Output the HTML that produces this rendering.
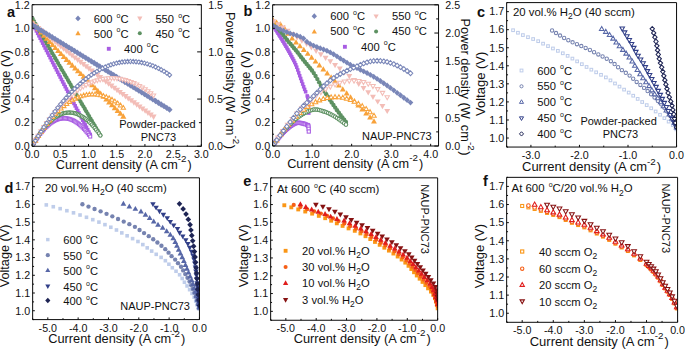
<!DOCTYPE html>
<html><head><meta charset="utf-8"><style>
html,body{margin:0;padding:0;background:#fff;}
body{width:685px;height:349px;overflow:hidden;}
svg{display:block;}
svg text{font-family:"Liberation Sans", sans-serif;fill:#111;}
</style></head><body>
<svg width="685" height="349" viewBox="0 0 685 349" xmlns="http://www.w3.org/2000/svg">
<clipPath id="c1"><rect x="32.10" y="4.70" width="169.25" height="141.55"/></clipPath>
<g clip-path="url(#c1)">
<rect x="30.86" y="21.77" width="3.60" height="3.60" fill="#a85de3"/>
<rect x="32.12" y="24.22" width="3.60" height="3.60" fill="#a85de3"/>
<rect x="33.37" y="26.66" width="3.60" height="3.60" fill="#a85de3"/>
<rect x="34.62" y="29.10" width="3.60" height="3.60" fill="#a85de3"/>
<rect x="35.87" y="31.54" width="3.60" height="3.60" fill="#a85de3"/>
<rect x="37.12" y="33.98" width="3.60" height="3.60" fill="#a85de3"/>
<rect x="38.37" y="36.42" width="3.60" height="3.60" fill="#a85de3"/>
<rect x="39.62" y="38.86" width="3.60" height="3.60" fill="#a85de3"/>
<rect x="40.87" y="41.29" width="3.60" height="3.60" fill="#a85de3"/>
<rect x="42.12" y="43.72" width="3.60" height="3.60" fill="#a85de3"/>
<rect x="43.37" y="46.16" width="3.60" height="3.60" fill="#a85de3"/>
<rect x="44.62" y="48.58" width="3.60" height="3.60" fill="#a85de3"/>
<rect x="45.88" y="51.01" width="3.60" height="3.60" fill="#a85de3"/>
<rect x="47.13" y="53.44" width="3.60" height="3.60" fill="#a85de3"/>
<rect x="48.38" y="55.86" width="3.60" height="3.60" fill="#a85de3"/>
<rect x="49.63" y="58.29" width="3.60" height="3.60" fill="#a85de3"/>
<rect x="50.88" y="60.71" width="3.60" height="3.60" fill="#a85de3"/>
<rect x="52.13" y="63.13" width="3.60" height="3.60" fill="#a85de3"/>
<rect x="53.38" y="65.55" width="3.60" height="3.60" fill="#a85de3"/>
<rect x="54.63" y="67.97" width="3.60" height="3.60" fill="#a85de3"/>
<rect x="55.88" y="70.38" width="3.60" height="3.60" fill="#a85de3"/>
<rect x="57.13" y="72.80" width="3.60" height="3.60" fill="#a85de3"/>
<rect x="58.39" y="75.21" width="3.60" height="3.60" fill="#a85de3"/>
<rect x="59.64" y="77.62" width="3.60" height="3.60" fill="#a85de3"/>
<rect x="60.89" y="80.03" width="3.60" height="3.60" fill="#a85de3"/>
<rect x="62.14" y="82.44" width="3.60" height="3.60" fill="#a85de3"/>
<rect x="63.39" y="84.84" width="3.60" height="3.60" fill="#a85de3"/>
<rect x="64.64" y="87.25" width="3.60" height="3.60" fill="#a85de3"/>
<rect x="65.89" y="89.65" width="3.60" height="3.60" fill="#a85de3"/>
<rect x="67.14" y="92.05" width="3.60" height="3.60" fill="#a85de3"/>
<rect x="68.39" y="94.45" width="3.60" height="3.60" fill="#a85de3"/>
<rect x="69.64" y="96.85" width="3.60" height="3.60" fill="#a85de3"/>
<rect x="70.90" y="99.25" width="3.60" height="3.60" fill="#a85de3"/>
<rect x="72.15" y="101.65" width="3.60" height="3.60" fill="#a85de3"/>
<rect x="73.40" y="104.04" width="3.60" height="3.60" fill="#a85de3"/>
<rect x="74.65" y="106.43" width="3.60" height="3.60" fill="#a85de3"/>
<rect x="75.90" y="108.82" width="3.60" height="3.60" fill="#a85de3"/>
<rect x="77.15" y="111.21" width="3.60" height="3.60" fill="#a85de3"/>
<rect x="78.40" y="113.60" width="3.60" height="3.60" fill="#a85de3"/>
<rect x="79.65" y="115.99" width="3.60" height="3.60" fill="#a85de3"/>
<rect x="80.90" y="118.37" width="3.60" height="3.60" fill="#a85de3"/>
<rect x="82.15" y="120.76" width="3.60" height="3.60" fill="#a85de3"/>
<rect x="83.41" y="123.14" width="3.60" height="3.60" fill="#a85de3"/>
<rect x="84.66" y="125.52" width="3.60" height="3.60" fill="#a85de3"/>
<rect x="85.91" y="127.90" width="3.60" height="3.60" fill="#a85de3"/>
<rect x="87.16" y="130.28" width="3.60" height="3.60" fill="#a85de3"/>
<rect x="88.41" y="132.65" width="3.60" height="3.60" fill="#a85de3"/>
<circle cx="32.66" cy="18.85" r="2.09" fill="#5d9162"/>
<circle cx="34.07" cy="21.33" r="2.09" fill="#5d9162"/>
<circle cx="35.48" cy="23.80" r="2.09" fill="#5d9162"/>
<circle cx="36.90" cy="26.27" r="2.09" fill="#5d9162"/>
<circle cx="38.31" cy="28.74" r="2.09" fill="#5d9162"/>
<circle cx="39.72" cy="31.20" r="2.09" fill="#5d9162"/>
<circle cx="41.13" cy="33.66" r="2.09" fill="#5d9162"/>
<circle cx="42.54" cy="36.12" r="2.09" fill="#5d9162"/>
<circle cx="43.95" cy="38.58" r="2.09" fill="#5d9162"/>
<circle cx="45.36" cy="41.04" r="2.09" fill="#5d9162"/>
<circle cx="46.77" cy="43.49" r="2.09" fill="#5d9162"/>
<circle cx="48.18" cy="45.95" r="2.09" fill="#5d9162"/>
<circle cx="49.59" cy="48.40" r="2.09" fill="#5d9162"/>
<circle cx="51.00" cy="50.84" r="2.09" fill="#5d9162"/>
<circle cx="52.41" cy="53.29" r="2.09" fill="#5d9162"/>
<circle cx="53.82" cy="55.73" r="2.09" fill="#5d9162"/>
<circle cx="55.23" cy="58.17" r="2.09" fill="#5d9162"/>
<circle cx="56.64" cy="60.61" r="2.09" fill="#5d9162"/>
<circle cx="58.05" cy="63.05" r="2.09" fill="#5d9162"/>
<circle cx="59.46" cy="65.48" r="2.09" fill="#5d9162"/>
<circle cx="60.87" cy="67.92" r="2.09" fill="#5d9162"/>
<circle cx="62.28" cy="70.35" r="2.09" fill="#5d9162"/>
<circle cx="63.69" cy="72.77" r="2.09" fill="#5d9162"/>
<circle cx="65.10" cy="75.20" r="2.09" fill="#5d9162"/>
<circle cx="66.51" cy="77.62" r="2.09" fill="#5d9162"/>
<circle cx="67.92" cy="80.05" r="2.09" fill="#5d9162"/>
<circle cx="69.33" cy="82.46" r="2.09" fill="#5d9162"/>
<circle cx="70.75" cy="84.88" r="2.09" fill="#5d9162"/>
<circle cx="72.16" cy="87.30" r="2.09" fill="#5d9162"/>
<circle cx="73.57" cy="89.71" r="2.09" fill="#5d9162"/>
<circle cx="74.98" cy="92.12" r="2.09" fill="#5d9162"/>
<circle cx="76.39" cy="94.53" r="2.09" fill="#5d9162"/>
<circle cx="77.80" cy="96.94" r="2.09" fill="#5d9162"/>
<circle cx="79.21" cy="99.34" r="2.09" fill="#5d9162"/>
<circle cx="80.62" cy="101.75" r="2.09" fill="#5d9162"/>
<circle cx="82.03" cy="104.15" r="2.09" fill="#5d9162"/>
<circle cx="83.44" cy="106.55" r="2.09" fill="#5d9162"/>
<circle cx="84.85" cy="108.94" r="2.09" fill="#5d9162"/>
<circle cx="86.26" cy="111.34" r="2.09" fill="#5d9162"/>
<circle cx="87.67" cy="113.73" r="2.09" fill="#5d9162"/>
<circle cx="89.08" cy="116.12" r="2.09" fill="#5d9162"/>
<circle cx="90.49" cy="118.51" r="2.09" fill="#5d9162"/>
<circle cx="91.90" cy="120.89" r="2.09" fill="#5d9162"/>
<circle cx="93.31" cy="123.28" r="2.09" fill="#5d9162"/>
<circle cx="94.72" cy="125.66" r="2.09" fill="#5d9162"/>
<circle cx="96.13" cy="128.04" r="2.09" fill="#5d9162"/>
<circle cx="97.54" cy="130.41" r="2.09" fill="#5d9162"/>
<circle cx="98.95" cy="132.79" r="2.09" fill="#5d9162"/>
<circle cx="100.36" cy="135.16" r="2.09" fill="#5d9162"/>
<polygon points="32.66,19.35 35.71,24.71 29.62,24.71" fill="#f8a23a"/>
<polygon points="35.50,22.63 38.54,27.99 32.45,27.99" fill="#f8a23a"/>
<polygon points="38.33,25.87 41.38,31.24 35.29,31.24" fill="#f8a23a"/>
<polygon points="41.16,29.09 44.21,34.46 38.12,34.46" fill="#f8a23a"/>
<polygon points="44.00,32.28 47.04,37.65 40.95,37.65" fill="#f8a23a"/>
<polygon points="46.83,35.44 49.88,40.80 43.79,40.80" fill="#f8a23a"/>
<polygon points="49.66,38.56 52.71,43.93 46.62,43.93" fill="#f8a23a"/>
<polygon points="52.50,41.66 55.54,47.02 49.45,47.02" fill="#f8a23a"/>
<polygon points="55.33,44.72 58.37,50.08 52.28,50.08" fill="#f8a23a"/>
<polygon points="58.16,47.75 61.21,53.11 55.12,53.11" fill="#f8a23a"/>
<polygon points="61.00,50.74 64.04,56.11 57.95,56.11" fill="#f8a23a"/>
<polygon points="63.83,53.69 66.87,59.05 60.78,59.05" fill="#f8a23a"/>
<polygon points="66.66,56.59 69.71,61.95 63.62,61.95" fill="#f8a23a"/>
<polygon points="69.50,59.45 72.54,64.81 66.45,64.81" fill="#f8a23a"/>
<polygon points="72.33,62.28 75.37,67.64 69.28,67.64" fill="#f8a23a"/>
<polygon points="75.16,65.09 78.21,70.45 72.12,70.45" fill="#f8a23a"/>
<polygon points="77.99,67.89 81.04,73.25 74.95,73.25" fill="#f8a23a"/>
<polygon points="80.83,70.68 83.87,76.05 77.78,76.05" fill="#f8a23a"/>
<polygon points="83.66,73.49 86.71,78.85 80.62,78.85" fill="#f8a23a"/>
<polygon points="86.49,76.30 89.54,81.67 83.45,81.67" fill="#f8a23a"/>
<polygon points="89.33,79.14 92.37,84.51 86.28,84.51" fill="#f8a23a"/>
<polygon points="92.16,81.99 95.21,87.36 89.12,87.36" fill="#f8a23a"/>
<polygon points="94.99,84.84 98.04,90.20 91.95,90.20" fill="#f8a23a"/>
<polygon points="97.83,87.69 100.87,93.05 94.78,93.05" fill="#f8a23a"/>
<polygon points="100.66,90.54 103.71,95.90 97.62,95.90" fill="#f8a23a"/>
<polygon points="103.49,93.39 106.54,98.75 100.45,98.75" fill="#f8a23a"/>
<polygon points="106.33,96.24 109.37,101.60 103.28,101.60" fill="#f8a23a"/>
<polygon points="109.16,99.09 112.20,104.46 106.11,104.46" fill="#f8a23a"/>
<polygon points="111.99,101.94 115.04,107.31 108.95,107.31" fill="#f8a23a"/>
<polygon points="114.83,104.80 117.87,110.16 111.78,110.16" fill="#f8a23a"/>
<polygon points="117.66,107.65 120.70,113.02 114.61,113.02" fill="#f8a23a"/>
<polygon points="120.49,110.51 123.54,115.87 117.45,115.87" fill="#f8a23a"/>
<polygon points="123.33,113.36 126.37,118.73 120.28,118.73" fill="#f8a23a"/>
<polygon points="32.66,26.62 35.71,21.25 29.62,21.25" fill="#f3bdb7"/>
<polygon points="35.48,28.95 38.52,23.58 32.43,23.58" fill="#f3bdb7"/>
<polygon points="38.29,31.27 41.33,25.90 35.24,25.90" fill="#f3bdb7"/>
<polygon points="41.10,33.58 44.14,28.21 38.05,28.21" fill="#f3bdb7"/>
<polygon points="43.91,35.89 46.96,30.52 40.87,30.52" fill="#f3bdb7"/>
<polygon points="46.72,38.19 49.77,32.82 43.68,32.82" fill="#f3bdb7"/>
<polygon points="49.53,40.48 52.58,35.11 46.49,35.11" fill="#f3bdb7"/>
<polygon points="52.35,42.76 55.39,37.40 49.30,37.40" fill="#f3bdb7"/>
<polygon points="55.16,45.04 58.20,39.67 52.11,39.67" fill="#f3bdb7"/>
<polygon points="57.97,47.31 61.01,41.94 54.92,41.94" fill="#f3bdb7"/>
<polygon points="60.78,49.57 63.83,44.20 57.74,44.20" fill="#f3bdb7"/>
<polygon points="63.59,51.82 66.64,46.46 60.55,46.46" fill="#f3bdb7"/>
<polygon points="66.40,54.07 69.45,48.70 63.36,48.70" fill="#f3bdb7"/>
<polygon points="69.22,56.31 72.26,50.94 66.17,50.94" fill="#f3bdb7"/>
<polygon points="72.03,58.54 75.07,53.17 68.98,53.17" fill="#f3bdb7"/>
<polygon points="74.84,60.76 77.88,55.39 71.79,55.39" fill="#f3bdb7"/>
<polygon points="77.65,62.97 80.70,57.61 74.61,57.61" fill="#f3bdb7"/>
<polygon points="80.46,65.18 83.51,59.81 77.42,59.81" fill="#f3bdb7"/>
<polygon points="83.27,67.37 86.32,62.01 80.23,62.01" fill="#f3bdb7"/>
<polygon points="86.09,69.56 89.13,64.19 83.04,64.19" fill="#f3bdb7"/>
<polygon points="88.90,71.74 91.94,66.37 85.85,66.37" fill="#f3bdb7"/>
<polygon points="91.71,73.91 94.75,68.54 88.66,68.54" fill="#f3bdb7"/>
<polygon points="94.52,76.07 97.57,70.71 91.48,70.71" fill="#f3bdb7"/>
<polygon points="97.33,78.23 100.38,72.87 94.29,72.87" fill="#f3bdb7"/>
<polygon points="100.14,80.38 103.19,75.02 97.10,75.02" fill="#f3bdb7"/>
<polygon points="102.96,82.53 106.00,77.16 99.91,77.16" fill="#f3bdb7"/>
<polygon points="105.77,84.67 108.81,79.30 102.72,79.30" fill="#f3bdb7"/>
<polygon points="108.58,86.80 111.62,81.43 105.53,81.43" fill="#f3bdb7"/>
<polygon points="111.39,88.92 114.44,83.56 108.35,83.56" fill="#f3bdb7"/>
<polygon points="114.20,91.04 117.25,85.68 111.16,85.68" fill="#f3bdb7"/>
<polygon points="117.01,93.15 120.06,87.79 113.97,87.79" fill="#f3bdb7"/>
<polygon points="119.83,95.26 122.87,89.89 116.78,89.89" fill="#f3bdb7"/>
<polygon points="122.64,97.35 125.68,91.99 119.59,91.99" fill="#f3bdb7"/>
<polygon points="125.45,99.44 128.49,94.08 122.40,94.08" fill="#f3bdb7"/>
<polygon points="128.26,101.52 131.31,96.16 125.22,96.16" fill="#f3bdb7"/>
<polygon points="131.07,103.60 134.12,98.23 128.03,98.23" fill="#f3bdb7"/>
<polygon points="133.88,105.67 136.93,100.30 130.84,100.30" fill="#f3bdb7"/>
<polygon points="136.70,107.73 139.74,102.36 133.65,102.36" fill="#f3bdb7"/>
<polygon points="139.51,109.78 142.55,104.41 136.46,104.41" fill="#f3bdb7"/>
<polygon points="142.32,111.82 145.36,106.46 139.27,106.46" fill="#f3bdb7"/>
<polygon points="145.13,113.86 148.18,108.50 142.09,108.50" fill="#f3bdb7"/>
<polygon points="147.94,115.89 150.99,110.52 144.90,110.52" fill="#f3bdb7"/>
<polygon points="150.75,117.91 153.80,112.55 147.71,112.55" fill="#f3bdb7"/>
<polygon points="153.57,119.92 156.61,114.56 150.52,114.56" fill="#f3bdb7"/>
<polygon points="32.66,22.07 35.66,25.22 32.66,28.37 29.66,25.22" fill="#7986b8"/>
<polygon points="35.46,23.79 38.46,26.94 35.46,30.09 32.46,26.94" fill="#7986b8"/>
<polygon points="38.25,25.50 41.25,28.65 38.25,31.80 35.25,28.65" fill="#7986b8"/>
<polygon points="41.05,27.22 44.05,30.37 41.05,33.52 38.05,30.37" fill="#7986b8"/>
<polygon points="43.84,28.93 46.84,32.08 43.84,35.23 40.84,32.08" fill="#7986b8"/>
<polygon points="46.64,30.65 49.64,33.80 46.64,36.95 43.64,33.80" fill="#7986b8"/>
<polygon points="49.43,32.36 52.43,35.51 49.43,38.66 46.43,35.51" fill="#7986b8"/>
<polygon points="52.22,34.08 55.22,37.23 52.22,40.38 49.22,37.23" fill="#7986b8"/>
<polygon points="55.02,35.79 58.02,38.94 55.02,42.09 52.02,38.94" fill="#7986b8"/>
<polygon points="57.81,37.51 60.81,40.66 57.81,43.81 54.81,40.66" fill="#7986b8"/>
<polygon points="60.61,39.23 63.61,42.38 60.61,45.53 57.61,42.38" fill="#7986b8"/>
<polygon points="63.40,40.95 66.40,44.10 63.40,47.25 60.40,44.10" fill="#7986b8"/>
<polygon points="66.20,42.67 69.20,45.82 66.20,48.97 63.20,45.82" fill="#7986b8"/>
<polygon points="68.99,44.38 71.99,47.53 68.99,50.68 65.99,47.53" fill="#7986b8"/>
<polygon points="71.79,46.10 74.79,49.25 71.79,52.40 68.79,49.25" fill="#7986b8"/>
<polygon points="74.58,47.82 77.58,50.97 74.58,54.12 71.58,50.97" fill="#7986b8"/>
<polygon points="77.37,49.54 80.37,52.69 77.37,55.84 74.37,52.69" fill="#7986b8"/>
<polygon points="80.17,51.26 83.17,54.41 80.17,57.56 77.17,54.41" fill="#7986b8"/>
<polygon points="82.96,52.98 85.96,56.13 82.96,59.28 79.96,56.13" fill="#7986b8"/>
<polygon points="85.76,54.70 88.76,57.85 85.76,61.00 82.76,57.85" fill="#7986b8"/>
<polygon points="88.55,56.43 91.55,59.58 88.55,62.73 85.55,59.58" fill="#7986b8"/>
<polygon points="91.35,58.15 94.35,61.30 91.35,64.45 88.35,61.30" fill="#7986b8"/>
<polygon points="94.14,59.87 97.14,63.02 94.14,66.17 91.14,63.02" fill="#7986b8"/>
<polygon points="96.93,61.59 99.93,64.74 96.93,67.89 93.93,64.74" fill="#7986b8"/>
<polygon points="99.73,63.32 102.73,66.47 99.73,69.62 96.73,66.47" fill="#7986b8"/>
<polygon points="102.52,65.04 105.52,68.19 102.52,71.34 99.52,68.19" fill="#7986b8"/>
<polygon points="105.32,66.76 108.32,69.91 105.32,73.06 102.32,69.91" fill="#7986b8"/>
<polygon points="108.11,68.49 111.11,71.64 108.11,74.79 105.11,71.64" fill="#7986b8"/>
<polygon points="110.91,70.21 113.91,73.36 110.91,76.51 107.91,73.36" fill="#7986b8"/>
<polygon points="113.70,71.94 116.70,75.09 113.70,78.24 110.70,75.09" fill="#7986b8"/>
<polygon points="116.49,73.66 119.49,76.81 116.49,79.96 113.49,76.81" fill="#7986b8"/>
<polygon points="119.29,75.39 122.29,78.54 119.29,81.69 116.29,78.54" fill="#7986b8"/>
<polygon points="122.08,77.12 125.08,80.27 122.08,83.42 119.08,80.27" fill="#7986b8"/>
<polygon points="124.88,78.84 127.88,81.99 124.88,85.14 121.88,81.99" fill="#7986b8"/>
<polygon points="127.67,80.57 130.67,83.72 127.67,86.87 124.67,83.72" fill="#7986b8"/>
<polygon points="130.47,82.30 133.47,85.45 130.47,88.60 127.47,85.45" fill="#7986b8"/>
<polygon points="133.26,84.03 136.26,87.18 133.26,90.33 130.26,87.18" fill="#7986b8"/>
<polygon points="136.06,85.76 139.06,88.91 136.06,92.06 133.06,88.91" fill="#7986b8"/>
<polygon points="138.85,87.49 141.85,90.64 138.85,93.79 135.85,90.64" fill="#7986b8"/>
<polygon points="141.64,89.21 144.64,92.36 141.64,95.51 138.64,92.36" fill="#7986b8"/>
<polygon points="144.44,90.94 147.44,94.09 144.44,97.24 141.44,94.09" fill="#7986b8"/>
<polygon points="147.23,92.68 150.23,95.83 147.23,98.98 144.23,95.83" fill="#7986b8"/>
<polygon points="150.03,94.41 153.03,97.56 150.03,100.71 147.03,97.56" fill="#7986b8"/>
<polygon points="152.82,96.14 155.82,99.29 152.82,102.44 149.82,99.29" fill="#7986b8"/>
<polygon points="155.62,97.87 158.62,101.02 155.62,104.17 152.62,101.02" fill="#7986b8"/>
<polygon points="158.41,99.60 161.41,102.75 158.41,105.90 155.41,102.75" fill="#7986b8"/>
<polygon points="161.20,101.33 164.20,104.48 161.20,107.63 158.20,104.48" fill="#7986b8"/>
<polygon points="164.00,103.07 167.00,106.22 164.00,109.37 161.00,106.22" fill="#7986b8"/>
<polygon points="166.79,104.80 169.79,107.95 166.79,111.10 163.79,107.95" fill="#7986b8"/>
<polygon points="169.59,106.53 172.59,109.68 169.59,112.83 166.59,109.68" fill="#7986b8"/>
<rect x="31.16" y="143.76" width="3.02" height="3.02" fill="#fff" stroke="#a85de3" stroke-width="1.05"/>
<rect x="32.41" y="141.65" width="3.02" height="3.02" fill="#fff" stroke="#a85de3" stroke-width="1.05"/>
<rect x="33.66" y="139.62" width="3.02" height="3.02" fill="#fff" stroke="#a85de3" stroke-width="1.05"/>
<rect x="34.91" y="137.68" width="3.02" height="3.02" fill="#fff" stroke="#a85de3" stroke-width="1.05"/>
<rect x="36.16" y="135.83" width="3.02" height="3.02" fill="#fff" stroke="#a85de3" stroke-width="1.05"/>
<rect x="37.41" y="134.06" width="3.02" height="3.02" fill="#fff" stroke="#a85de3" stroke-width="1.05"/>
<rect x="38.66" y="132.38" width="3.02" height="3.02" fill="#fff" stroke="#a85de3" stroke-width="1.05"/>
<rect x="39.91" y="130.79" width="3.02" height="3.02" fill="#fff" stroke="#a85de3" stroke-width="1.05"/>
<rect x="41.16" y="129.28" width="3.02" height="3.02" fill="#fff" stroke="#a85de3" stroke-width="1.05"/>
<rect x="42.42" y="127.86" width="3.02" height="3.02" fill="#fff" stroke="#a85de3" stroke-width="1.05"/>
<rect x="43.67" y="126.52" width="3.02" height="3.02" fill="#fff" stroke="#a85de3" stroke-width="1.05"/>
<rect x="44.92" y="125.27" width="3.02" height="3.02" fill="#fff" stroke="#a85de3" stroke-width="1.05"/>
<rect x="46.17" y="124.11" width="3.02" height="3.02" fill="#fff" stroke="#a85de3" stroke-width="1.05"/>
<rect x="47.42" y="123.03" width="3.02" height="3.02" fill="#fff" stroke="#a85de3" stroke-width="1.05"/>
<rect x="48.67" y="122.03" width="3.02" height="3.02" fill="#fff" stroke="#a85de3" stroke-width="1.05"/>
<rect x="49.92" y="121.13" width="3.02" height="3.02" fill="#fff" stroke="#a85de3" stroke-width="1.05"/>
<rect x="51.17" y="120.31" width="3.02" height="3.02" fill="#fff" stroke="#a85de3" stroke-width="1.05"/>
<rect x="52.42" y="119.57" width="3.02" height="3.02" fill="#fff" stroke="#a85de3" stroke-width="1.05"/>
<rect x="53.67" y="118.92" width="3.02" height="3.02" fill="#fff" stroke="#a85de3" stroke-width="1.05"/>
<rect x="54.93" y="118.35" width="3.02" height="3.02" fill="#fff" stroke="#a85de3" stroke-width="1.05"/>
<rect x="56.18" y="117.87" width="3.02" height="3.02" fill="#fff" stroke="#a85de3" stroke-width="1.05"/>
<rect x="57.43" y="117.48" width="3.02" height="3.02" fill="#fff" stroke="#a85de3" stroke-width="1.05"/>
<rect x="58.68" y="117.17" width="3.02" height="3.02" fill="#fff" stroke="#a85de3" stroke-width="1.05"/>
<rect x="59.93" y="116.94" width="3.02" height="3.02" fill="#fff" stroke="#a85de3" stroke-width="1.05"/>
<rect x="61.18" y="116.80" width="3.02" height="3.02" fill="#fff" stroke="#a85de3" stroke-width="1.05"/>
<rect x="62.43" y="116.74" width="3.02" height="3.02" fill="#fff" stroke="#a85de3" stroke-width="1.05"/>
<rect x="63.68" y="116.77" width="3.02" height="3.02" fill="#fff" stroke="#a85de3" stroke-width="1.05"/>
<rect x="64.93" y="116.89" width="3.02" height="3.02" fill="#fff" stroke="#a85de3" stroke-width="1.05"/>
<rect x="66.18" y="117.09" width="3.02" height="3.02" fill="#fff" stroke="#a85de3" stroke-width="1.05"/>
<rect x="67.44" y="117.37" width="3.02" height="3.02" fill="#fff" stroke="#a85de3" stroke-width="1.05"/>
<rect x="68.69" y="117.74" width="3.02" height="3.02" fill="#fff" stroke="#a85de3" stroke-width="1.05"/>
<rect x="69.94" y="118.19" width="3.02" height="3.02" fill="#fff" stroke="#a85de3" stroke-width="1.05"/>
<rect x="71.19" y="118.72" width="3.02" height="3.02" fill="#fff" stroke="#a85de3" stroke-width="1.05"/>
<rect x="72.44" y="119.34" width="3.02" height="3.02" fill="#fff" stroke="#a85de3" stroke-width="1.05"/>
<rect x="73.69" y="120.05" width="3.02" height="3.02" fill="#fff" stroke="#a85de3" stroke-width="1.05"/>
<rect x="74.94" y="120.83" width="3.02" height="3.02" fill="#fff" stroke="#a85de3" stroke-width="1.05"/>
<rect x="76.19" y="121.71" width="3.02" height="3.02" fill="#fff" stroke="#a85de3" stroke-width="1.05"/>
<rect x="77.44" y="122.66" width="3.02" height="3.02" fill="#fff" stroke="#a85de3" stroke-width="1.05"/>
<rect x="78.69" y="123.70" width="3.02" height="3.02" fill="#fff" stroke="#a85de3" stroke-width="1.05"/>
<rect x="79.94" y="124.82" width="3.02" height="3.02" fill="#fff" stroke="#a85de3" stroke-width="1.05"/>
<rect x="81.20" y="126.03" width="3.02" height="3.02" fill="#fff" stroke="#a85de3" stroke-width="1.05"/>
<rect x="82.45" y="127.32" width="3.02" height="3.02" fill="#fff" stroke="#a85de3" stroke-width="1.05"/>
<rect x="83.70" y="128.70" width="3.02" height="3.02" fill="#fff" stroke="#a85de3" stroke-width="1.05"/>
<rect x="84.95" y="130.15" width="3.02" height="3.02" fill="#fff" stroke="#a85de3" stroke-width="1.05"/>
<rect x="86.20" y="131.69" width="3.02" height="3.02" fill="#fff" stroke="#a85de3" stroke-width="1.05"/>
<rect x="87.45" y="133.32" width="3.02" height="3.02" fill="#fff" stroke="#a85de3" stroke-width="1.05"/>
<rect x="88.70" y="135.02" width="3.02" height="3.02" fill="#fff" stroke="#a85de3" stroke-width="1.05"/>
<circle cx="32.66" cy="145.23" r="1.69" fill="#fff" stroke="#5d9162" stroke-width="1.05"/>
<circle cx="34.07" cy="142.75" r="1.69" fill="#fff" stroke="#5d9162" stroke-width="1.05"/>
<circle cx="35.48" cy="140.37" r="1.69" fill="#fff" stroke="#5d9162" stroke-width="1.05"/>
<circle cx="36.90" cy="138.09" r="1.69" fill="#fff" stroke="#5d9162" stroke-width="1.05"/>
<circle cx="38.31" cy="135.91" r="1.69" fill="#fff" stroke="#5d9162" stroke-width="1.05"/>
<circle cx="39.72" cy="133.82" r="1.69" fill="#fff" stroke="#5d9162" stroke-width="1.05"/>
<circle cx="41.13" cy="131.84" r="1.69" fill="#fff" stroke="#5d9162" stroke-width="1.05"/>
<circle cx="42.54" cy="129.95" r="1.69" fill="#fff" stroke="#5d9162" stroke-width="1.05"/>
<circle cx="43.95" cy="128.16" r="1.69" fill="#fff" stroke="#5d9162" stroke-width="1.05"/>
<circle cx="45.36" cy="126.47" r="1.69" fill="#fff" stroke="#5d9162" stroke-width="1.05"/>
<circle cx="46.77" cy="124.88" r="1.69" fill="#fff" stroke="#5d9162" stroke-width="1.05"/>
<circle cx="48.18" cy="123.38" r="1.69" fill="#fff" stroke="#5d9162" stroke-width="1.05"/>
<circle cx="49.59" cy="121.98" r="1.69" fill="#fff" stroke="#5d9162" stroke-width="1.05"/>
<circle cx="51.00" cy="120.68" r="1.69" fill="#fff" stroke="#5d9162" stroke-width="1.05"/>
<circle cx="52.41" cy="119.48" r="1.69" fill="#fff" stroke="#5d9162" stroke-width="1.05"/>
<circle cx="53.82" cy="118.37" r="1.69" fill="#fff" stroke="#5d9162" stroke-width="1.05"/>
<circle cx="55.23" cy="117.36" r="1.69" fill="#fff" stroke="#5d9162" stroke-width="1.05"/>
<circle cx="56.64" cy="116.45" r="1.69" fill="#fff" stroke="#5d9162" stroke-width="1.05"/>
<circle cx="58.05" cy="115.63" r="1.69" fill="#fff" stroke="#5d9162" stroke-width="1.05"/>
<circle cx="59.46" cy="114.91" r="1.69" fill="#fff" stroke="#5d9162" stroke-width="1.05"/>
<circle cx="60.87" cy="114.29" r="1.69" fill="#fff" stroke="#5d9162" stroke-width="1.05"/>
<circle cx="62.28" cy="113.76" r="1.69" fill="#fff" stroke="#5d9162" stroke-width="1.05"/>
<circle cx="63.69" cy="113.33" r="1.69" fill="#fff" stroke="#5d9162" stroke-width="1.05"/>
<circle cx="65.10" cy="113.00" r="1.69" fill="#fff" stroke="#5d9162" stroke-width="1.05"/>
<circle cx="66.51" cy="112.76" r="1.69" fill="#fff" stroke="#5d9162" stroke-width="1.05"/>
<circle cx="67.92" cy="112.62" r="1.69" fill="#fff" stroke="#5d9162" stroke-width="1.05"/>
<circle cx="69.33" cy="112.57" r="1.69" fill="#fff" stroke="#5d9162" stroke-width="1.05"/>
<circle cx="70.75" cy="112.62" r="1.69" fill="#fff" stroke="#5d9162" stroke-width="1.05"/>
<circle cx="72.16" cy="112.76" r="1.69" fill="#fff" stroke="#5d9162" stroke-width="1.05"/>
<circle cx="73.57" cy="113.00" r="1.69" fill="#fff" stroke="#5d9162" stroke-width="1.05"/>
<circle cx="74.98" cy="113.34" r="1.69" fill="#fff" stroke="#5d9162" stroke-width="1.05"/>
<circle cx="76.39" cy="113.77" r="1.69" fill="#fff" stroke="#5d9162" stroke-width="1.05"/>
<circle cx="77.80" cy="114.30" r="1.69" fill="#fff" stroke="#5d9162" stroke-width="1.05"/>
<circle cx="79.21" cy="114.92" r="1.69" fill="#fff" stroke="#5d9162" stroke-width="1.05"/>
<circle cx="80.62" cy="115.63" r="1.69" fill="#fff" stroke="#5d9162" stroke-width="1.05"/>
<circle cx="82.03" cy="116.44" r="1.69" fill="#fff" stroke="#5d9162" stroke-width="1.05"/>
<circle cx="83.44" cy="117.34" r="1.69" fill="#fff" stroke="#5d9162" stroke-width="1.05"/>
<circle cx="84.85" cy="118.34" r="1.69" fill="#fff" stroke="#5d9162" stroke-width="1.05"/>
<circle cx="86.26" cy="119.44" r="1.69" fill="#fff" stroke="#5d9162" stroke-width="1.05"/>
<circle cx="87.67" cy="120.62" r="1.69" fill="#fff" stroke="#5d9162" stroke-width="1.05"/>
<circle cx="89.08" cy="121.90" r="1.69" fill="#fff" stroke="#5d9162" stroke-width="1.05"/>
<circle cx="90.49" cy="123.28" r="1.69" fill="#fff" stroke="#5d9162" stroke-width="1.05"/>
<circle cx="91.90" cy="124.75" r="1.69" fill="#fff" stroke="#5d9162" stroke-width="1.05"/>
<circle cx="93.31" cy="126.31" r="1.69" fill="#fff" stroke="#5d9162" stroke-width="1.05"/>
<circle cx="94.72" cy="127.96" r="1.69" fill="#fff" stroke="#5d9162" stroke-width="1.05"/>
<circle cx="96.13" cy="129.71" r="1.69" fill="#fff" stroke="#5d9162" stroke-width="1.05"/>
<circle cx="97.54" cy="131.55" r="1.69" fill="#fff" stroke="#5d9162" stroke-width="1.05"/>
<circle cx="98.95" cy="133.49" r="1.69" fill="#fff" stroke="#5d9162" stroke-width="1.05"/>
<circle cx="100.36" cy="135.52" r="1.69" fill="#fff" stroke="#5d9162" stroke-width="1.05"/>
<polygon points="32.66,143.08 34.84,146.92 30.49,146.92" fill="#fff" stroke="#f8a23a" stroke-width="1.05"/>
<polygon points="35.50,138.26 37.68,142.10 33.32,142.10" fill="#fff" stroke="#f8a23a" stroke-width="1.05"/>
<polygon points="38.33,133.71 40.51,137.54 36.15,137.54" fill="#fff" stroke="#f8a23a" stroke-width="1.05"/>
<polygon points="41.16,129.40 43.34,133.24 38.98,133.24" fill="#fff" stroke="#f8a23a" stroke-width="1.05"/>
<polygon points="44.00,125.36 46.18,129.20 41.82,129.20" fill="#fff" stroke="#f8a23a" stroke-width="1.05"/>
<polygon points="46.83,121.56 49.01,125.40 44.65,125.40" fill="#fff" stroke="#f8a23a" stroke-width="1.05"/>
<polygon points="49.66,118.01 51.84,121.85 47.48,121.85" fill="#fff" stroke="#f8a23a" stroke-width="1.05"/>
<polygon points="52.50,114.70 54.68,118.54 50.32,118.54" fill="#fff" stroke="#f8a23a" stroke-width="1.05"/>
<polygon points="55.33,111.63 57.51,115.47 53.15,115.47" fill="#fff" stroke="#f8a23a" stroke-width="1.05"/>
<polygon points="58.16,108.79 60.34,112.63 55.98,112.63" fill="#fff" stroke="#f8a23a" stroke-width="1.05"/>
<polygon points="61.00,106.18 63.17,110.02 58.82,110.02" fill="#fff" stroke="#f8a23a" stroke-width="1.05"/>
<polygon points="63.83,103.79 66.01,107.63 61.65,107.63" fill="#fff" stroke="#f8a23a" stroke-width="1.05"/>
<polygon points="66.66,101.62 68.84,105.46 64.48,105.46" fill="#fff" stroke="#f8a23a" stroke-width="1.05"/>
<polygon points="69.50,99.66 71.67,103.49 67.32,103.49" fill="#fff" stroke="#f8a23a" stroke-width="1.05"/>
<polygon points="72.33,97.91 74.51,101.74 70.15,101.74" fill="#fff" stroke="#f8a23a" stroke-width="1.05"/>
<polygon points="75.16,96.37 77.34,100.21 72.98,100.21" fill="#fff" stroke="#f8a23a" stroke-width="1.05"/>
<polygon points="77.99,95.05 80.17,98.89 75.82,98.89" fill="#fff" stroke="#f8a23a" stroke-width="1.05"/>
<polygon points="80.83,93.96 83.01,97.80 78.65,97.80" fill="#fff" stroke="#f8a23a" stroke-width="1.05"/>
<polygon points="83.66,93.10 85.84,96.93 81.48,96.93" fill="#fff" stroke="#f8a23a" stroke-width="1.05"/>
<polygon points="86.49,92.47 88.67,96.31 84.32,96.31" fill="#fff" stroke="#f8a23a" stroke-width="1.05"/>
<polygon points="89.33,92.08 91.51,95.92 87.15,95.92" fill="#fff" stroke="#f8a23a" stroke-width="1.05"/>
<polygon points="92.16,91.94 94.34,95.78 89.98,95.78" fill="#fff" stroke="#f8a23a" stroke-width="1.05"/>
<polygon points="94.99,92.02 97.17,95.86 92.82,95.86" fill="#fff" stroke="#f8a23a" stroke-width="1.05"/>
<polygon points="97.83,92.33 100.01,96.17 95.65,96.17" fill="#fff" stroke="#f8a23a" stroke-width="1.05"/>
<polygon points="100.66,92.87 102.84,96.71 98.48,96.71" fill="#fff" stroke="#f8a23a" stroke-width="1.05"/>
<polygon points="103.49,93.64 105.67,97.48 101.31,97.48" fill="#fff" stroke="#f8a23a" stroke-width="1.05"/>
<polygon points="106.33,94.64 108.51,98.48 104.15,98.48" fill="#fff" stroke="#f8a23a" stroke-width="1.05"/>
<polygon points="109.16,95.87 111.34,99.71 106.98,99.71" fill="#fff" stroke="#f8a23a" stroke-width="1.05"/>
<polygon points="111.99,97.33 114.17,101.17 109.81,101.17" fill="#fff" stroke="#f8a23a" stroke-width="1.05"/>
<polygon points="114.83,99.02 117.00,102.85 112.65,102.85" fill="#fff" stroke="#f8a23a" stroke-width="1.05"/>
<polygon points="117.66,100.94 119.84,104.77 115.48,104.77" fill="#fff" stroke="#f8a23a" stroke-width="1.05"/>
<polygon points="120.49,103.09 122.67,106.92 118.31,106.92" fill="#fff" stroke="#f8a23a" stroke-width="1.05"/>
<polygon points="123.33,105.47 125.50,109.30 121.15,109.30" fill="#fff" stroke="#f8a23a" stroke-width="1.05"/>
<polygon points="32.66,147.45 34.84,143.61 30.49,143.61" fill="#fff" stroke="#f3bdb7" stroke-width="1.05"/>
<polygon points="35.48,142.67 37.65,138.83 33.30,138.83" fill="#fff" stroke="#f3bdb7" stroke-width="1.05"/>
<polygon points="38.29,138.07 40.47,134.23 36.11,134.23" fill="#fff" stroke="#f3bdb7" stroke-width="1.05"/>
<polygon points="41.10,133.66 43.28,129.82 38.92,129.82" fill="#fff" stroke="#f3bdb7" stroke-width="1.05"/>
<polygon points="43.91,129.44 46.09,125.60 41.73,125.60" fill="#fff" stroke="#f3bdb7" stroke-width="1.05"/>
<polygon points="46.72,125.39 48.90,121.55 44.54,121.55" fill="#fff" stroke="#f3bdb7" stroke-width="1.05"/>
<polygon points="49.53,121.53 51.71,117.69 47.36,117.69" fill="#fff" stroke="#f3bdb7" stroke-width="1.05"/>
<polygon points="52.35,117.84 54.52,114.01 50.17,114.01" fill="#fff" stroke="#f3bdb7" stroke-width="1.05"/>
<polygon points="55.16,114.34 57.34,110.50 52.98,110.50" fill="#fff" stroke="#f3bdb7" stroke-width="1.05"/>
<polygon points="57.97,111.02 60.15,107.18 55.79,107.18" fill="#fff" stroke="#f3bdb7" stroke-width="1.05"/>
<polygon points="60.78,107.87 62.96,104.03 58.60,104.03" fill="#fff" stroke="#f3bdb7" stroke-width="1.05"/>
<polygon points="63.59,104.90 65.77,101.06 61.41,101.06" fill="#fff" stroke="#f3bdb7" stroke-width="1.05"/>
<polygon points="66.40,102.11 68.58,98.27 64.23,98.27" fill="#fff" stroke="#f3bdb7" stroke-width="1.05"/>
<polygon points="69.22,99.49 71.39,95.65 67.04,95.65" fill="#fff" stroke="#f3bdb7" stroke-width="1.05"/>
<polygon points="72.03,97.04 74.21,93.20 69.85,93.20" fill="#fff" stroke="#f3bdb7" stroke-width="1.05"/>
<polygon points="74.84,94.77 77.02,90.93 72.66,90.93" fill="#fff" stroke="#f3bdb7" stroke-width="1.05"/>
<polygon points="77.65,92.67 79.83,88.83 75.47,88.83" fill="#fff" stroke="#f3bdb7" stroke-width="1.05"/>
<polygon points="80.46,90.74 82.64,86.90 78.28,86.90" fill="#fff" stroke="#f3bdb7" stroke-width="1.05"/>
<polygon points="83.27,88.98 85.45,85.14 81.10,85.14" fill="#fff" stroke="#f3bdb7" stroke-width="1.05"/>
<polygon points="86.09,87.39 88.26,83.55 83.91,83.55" fill="#fff" stroke="#f3bdb7" stroke-width="1.05"/>
<polygon points="88.90,85.96 91.08,82.12 86.72,82.12" fill="#fff" stroke="#f3bdb7" stroke-width="1.05"/>
<polygon points="91.71,84.71 93.89,80.87 89.53,80.87" fill="#fff" stroke="#f3bdb7" stroke-width="1.05"/>
<polygon points="94.52,83.62 96.70,79.78 92.34,79.78" fill="#fff" stroke="#f3bdb7" stroke-width="1.05"/>
<polygon points="97.33,82.69 99.51,78.86 95.15,78.86" fill="#fff" stroke="#f3bdb7" stroke-width="1.05"/>
<polygon points="100.14,81.94 102.32,78.10 97.96,78.10" fill="#fff" stroke="#f3bdb7" stroke-width="1.05"/>
<polygon points="102.96,81.34 105.13,77.51 100.78,77.51" fill="#fff" stroke="#f3bdb7" stroke-width="1.05"/>
<polygon points="105.77,80.92 107.95,77.08 103.59,77.08" fill="#fff" stroke="#f3bdb7" stroke-width="1.05"/>
<polygon points="108.58,80.65 110.76,76.81 106.40,76.81" fill="#fff" stroke="#f3bdb7" stroke-width="1.05"/>
<polygon points="111.39,80.55 113.57,76.71 109.21,76.71" fill="#fff" stroke="#f3bdb7" stroke-width="1.05"/>
<polygon points="114.20,80.61 116.38,76.77 112.02,76.77" fill="#fff" stroke="#f3bdb7" stroke-width="1.05"/>
<polygon points="117.01,80.83 119.19,76.99 114.83,76.99" fill="#fff" stroke="#f3bdb7" stroke-width="1.05"/>
<polygon points="119.83,81.21 122.00,77.37 117.65,77.37" fill="#fff" stroke="#f3bdb7" stroke-width="1.05"/>
<polygon points="122.64,81.74 124.82,77.90 120.46,77.90" fill="#fff" stroke="#f3bdb7" stroke-width="1.05"/>
<polygon points="125.45,82.44 127.63,78.60 123.27,78.60" fill="#fff" stroke="#f3bdb7" stroke-width="1.05"/>
<polygon points="128.26,83.29 130.44,79.45 126.08,79.45" fill="#fff" stroke="#f3bdb7" stroke-width="1.05"/>
<polygon points="131.07,84.30 133.25,80.46 128.89,80.46" fill="#fff" stroke="#f3bdb7" stroke-width="1.05"/>
<polygon points="133.88,85.46 136.06,81.62 131.70,81.62" fill="#fff" stroke="#f3bdb7" stroke-width="1.05"/>
<polygon points="136.70,86.78 138.87,82.94 134.52,82.94" fill="#fff" stroke="#f3bdb7" stroke-width="1.05"/>
<polygon points="139.51,88.24 141.69,84.41 137.33,84.41" fill="#fff" stroke="#f3bdb7" stroke-width="1.05"/>
<polygon points="142.32,89.86 144.50,86.03 140.14,86.03" fill="#fff" stroke="#f3bdb7" stroke-width="1.05"/>
<polygon points="145.13,91.63 147.31,87.80 142.95,87.80" fill="#fff" stroke="#f3bdb7" stroke-width="1.05"/>
<polygon points="147.94,93.55 150.12,89.72 145.76,89.72" fill="#fff" stroke="#f3bdb7" stroke-width="1.05"/>
<polygon points="150.75,95.62 152.93,91.78 148.57,91.78" fill="#fff" stroke="#f3bdb7" stroke-width="1.05"/>
<polygon points="153.57,97.84 155.74,94.00 151.39,94.00" fill="#fff" stroke="#f3bdb7" stroke-width="1.05"/>
<polygon points="32.66,143.10 34.74,145.28 32.66,147.46 30.59,145.28" fill="#fff" stroke="#7986b8" stroke-width="1.05"/>
<polygon points="35.46,138.39 37.53,140.57 35.46,142.75 33.38,140.57" fill="#fff" stroke="#7986b8" stroke-width="1.05"/>
<polygon points="38.25,133.81 40.33,135.99 38.25,138.17 36.18,135.99" fill="#fff" stroke="#7986b8" stroke-width="1.05"/>
<polygon points="41.05,129.37 43.12,131.55 41.05,133.73 38.97,131.55" fill="#fff" stroke="#7986b8" stroke-width="1.05"/>
<polygon points="43.84,125.06 45.92,127.24 43.84,129.42 41.77,127.24" fill="#fff" stroke="#7986b8" stroke-width="1.05"/>
<polygon points="46.64,120.89 48.71,123.07 46.64,125.25 44.56,123.07" fill="#fff" stroke="#7986b8" stroke-width="1.05"/>
<polygon points="49.43,116.86 51.51,119.04 49.43,121.22 47.36,119.04" fill="#fff" stroke="#7986b8" stroke-width="1.05"/>
<polygon points="52.22,112.96 54.30,115.14 52.22,117.32 50.15,115.14" fill="#fff" stroke="#7986b8" stroke-width="1.05"/>
<polygon points="55.02,109.20 57.09,111.38 55.02,113.56 52.94,111.38" fill="#fff" stroke="#7986b8" stroke-width="1.05"/>
<polygon points="57.81,105.57 59.89,107.75 57.81,109.93 55.74,107.75" fill="#fff" stroke="#7986b8" stroke-width="1.05"/>
<polygon points="60.61,102.08 62.68,104.26 60.61,106.44 58.53,104.26" fill="#fff" stroke="#7986b8" stroke-width="1.05"/>
<polygon points="63.40,98.73 65.48,100.91 63.40,103.09 61.33,100.91" fill="#fff" stroke="#7986b8" stroke-width="1.05"/>
<polygon points="66.20,95.51 68.27,97.69 66.20,99.87 64.12,97.69" fill="#fff" stroke="#7986b8" stroke-width="1.05"/>
<polygon points="68.99,92.43 71.07,94.61 68.99,96.79 66.92,94.61" fill="#fff" stroke="#7986b8" stroke-width="1.05"/>
<polygon points="71.79,89.49 73.86,91.67 71.79,93.84 69.71,91.67" fill="#fff" stroke="#7986b8" stroke-width="1.05"/>
<polygon points="74.58,86.68 76.65,88.86 74.58,91.04 72.50,88.86" fill="#fff" stroke="#7986b8" stroke-width="1.05"/>
<polygon points="77.37,84.01 79.45,86.19 77.37,88.37 75.30,86.19" fill="#fff" stroke="#7986b8" stroke-width="1.05"/>
<polygon points="80.17,81.47 82.24,83.65 80.17,85.83 78.09,83.65" fill="#fff" stroke="#7986b8" stroke-width="1.05"/>
<polygon points="82.96,79.08 85.04,81.25 82.96,83.43 80.89,81.25" fill="#fff" stroke="#7986b8" stroke-width="1.05"/>
<polygon points="85.76,76.81 87.83,78.99 85.76,81.17 83.68,78.99" fill="#fff" stroke="#7986b8" stroke-width="1.05"/>
<polygon points="88.55,74.69 90.63,76.87 88.55,79.05 86.48,76.87" fill="#fff" stroke="#7986b8" stroke-width="1.05"/>
<polygon points="91.35,72.70 93.42,74.88 91.35,77.06 89.27,74.88" fill="#fff" stroke="#7986b8" stroke-width="1.05"/>
<polygon points="94.14,70.85 96.21,73.03 94.14,75.21 92.06,73.03" fill="#fff" stroke="#7986b8" stroke-width="1.05"/>
<polygon points="96.93,69.14 99.01,71.32 96.93,73.49 94.86,71.32" fill="#fff" stroke="#7986b8" stroke-width="1.05"/>
<polygon points="99.73,67.56 101.80,69.74 99.73,71.92 97.65,69.74" fill="#fff" stroke="#7986b8" stroke-width="1.05"/>
<polygon points="102.52,66.12 104.60,68.30 102.52,70.48 100.45,68.30" fill="#fff" stroke="#7986b8" stroke-width="1.05"/>
<polygon points="105.32,64.82 107.39,67.00 105.32,69.17 103.24,67.00" fill="#fff" stroke="#7986b8" stroke-width="1.05"/>
<polygon points="108.11,63.65 110.19,65.83 108.11,68.01 106.04,65.83" fill="#fff" stroke="#7986b8" stroke-width="1.05"/>
<polygon points="110.91,62.62 112.98,64.80 110.91,66.98 108.83,64.80" fill="#fff" stroke="#7986b8" stroke-width="1.05"/>
<polygon points="113.70,61.73 115.78,63.91 113.70,66.09 111.63,63.91" fill="#fff" stroke="#7986b8" stroke-width="1.05"/>
<polygon points="116.49,60.98 118.57,63.15 116.49,65.33 114.42,63.15" fill="#fff" stroke="#7986b8" stroke-width="1.05"/>
<polygon points="119.29,60.36 121.36,62.54 119.29,64.72 117.21,62.54" fill="#fff" stroke="#7986b8" stroke-width="1.05"/>
<polygon points="122.08,59.88 124.16,62.06 122.08,64.24 120.01,62.06" fill="#fff" stroke="#7986b8" stroke-width="1.05"/>
<polygon points="124.88,59.54 126.95,61.71 124.88,63.89 122.80,61.71" fill="#fff" stroke="#7986b8" stroke-width="1.05"/>
<polygon points="127.67,59.33 129.75,61.51 127.67,63.69 125.60,61.51" fill="#fff" stroke="#7986b8" stroke-width="1.05"/>
<polygon points="130.47,59.26 132.54,61.44 130.47,63.62 128.39,61.44" fill="#fff" stroke="#7986b8" stroke-width="1.05"/>
<polygon points="133.26,59.33 135.34,61.51 133.26,63.69 131.19,61.51" fill="#fff" stroke="#7986b8" stroke-width="1.05"/>
<polygon points="136.06,59.54 138.13,61.72 136.06,63.90 133.98,61.72" fill="#fff" stroke="#7986b8" stroke-width="1.05"/>
<polygon points="138.85,59.89 140.92,62.06 138.85,64.24 136.77,62.06" fill="#fff" stroke="#7986b8" stroke-width="1.05"/>
<polygon points="141.64,60.37 143.72,62.55 141.64,64.73 139.57,62.55" fill="#fff" stroke="#7986b8" stroke-width="1.05"/>
<polygon points="144.44,60.99 146.51,63.17 144.44,65.35 142.36,63.17" fill="#fff" stroke="#7986b8" stroke-width="1.05"/>
<polygon points="147.23,61.75 149.31,63.93 147.23,66.10 145.16,63.93" fill="#fff" stroke="#7986b8" stroke-width="1.05"/>
<polygon points="150.03,62.64 152.10,64.82 150.03,67.00 147.95,64.82" fill="#fff" stroke="#7986b8" stroke-width="1.05"/>
<polygon points="152.82,63.68 154.90,65.86 152.82,68.04 150.75,65.86" fill="#fff" stroke="#7986b8" stroke-width="1.05"/>
<polygon points="155.62,64.85 157.69,67.03 155.62,69.21 153.54,67.03" fill="#fff" stroke="#7986b8" stroke-width="1.05"/>
<polygon points="158.41,66.16 160.49,68.34 158.41,70.52 156.34,68.34" fill="#fff" stroke="#7986b8" stroke-width="1.05"/>
<polygon points="161.20,67.61 163.28,69.79 161.20,71.96 159.13,69.79" fill="#fff" stroke="#7986b8" stroke-width="1.05"/>
<polygon points="164.00,69.19 166.07,71.37 164.00,73.55 161.92,71.37" fill="#fff" stroke="#7986b8" stroke-width="1.05"/>
<polygon points="166.79,70.92 168.87,73.10 166.79,75.28 164.72,73.10" fill="#fff" stroke="#7986b8" stroke-width="1.05"/>
<polygon points="169.59,72.78 171.66,74.96 169.59,77.14 167.51,74.96" fill="#fff" stroke="#7986b8" stroke-width="1.05"/>
</g>
<path d="M32.10 4.70H201.35V146.25H32.10Z" fill="none" stroke="#0a0a0a" stroke-width="1"/>
<path d="M32.10 146.25v-2.2M60.31 146.25v-2.2M88.52 146.25v-2.2M116.72 146.25v-2.2M144.93 146.25v-2.2M173.14 146.25v-2.2M201.35 146.25v-2.2M46.20 146.25v-1.4M74.41 146.25v-1.4M102.62 146.25v-1.4M130.83 146.25v-1.4M159.04 146.25v-1.4M187.25 146.25v-1.4M32.10 146.25h2.2M32.10 122.66h2.2M32.10 99.07h2.2M32.10 75.47h2.2M32.10 51.88h2.2M32.10 28.29h2.2M32.10 4.70h2.2M32.10 134.45h1.4M32.10 110.86h1.4M32.10 87.27h1.4M32.10 63.68h1.4M32.10 40.09h1.4M32.10 16.50h1.4M201.35 146.25h-4.2M201.35 99.07h-4.2M201.35 51.88h-4.2M201.35 4.70h-4.2M201.35 122.66h-2.4M201.35 75.47h-2.4M201.35 28.29h-2.4" stroke="#0a0a0a" stroke-width="1"/>
<text transform="translate(32.1 158.25) scale(1.06 1)" font-size="10.1" text-anchor="middle">0.0</text>
<text transform="translate(60.31 158.25) scale(1.06 1)" font-size="10.1" text-anchor="middle">0.5</text>
<text transform="translate(88.52 158.25) scale(1.06 1)" font-size="10.1" text-anchor="middle">1.0</text>
<text transform="translate(116.72 158.25) scale(1.06 1)" font-size="10.1" text-anchor="middle">1.5</text>
<text transform="translate(144.93 158.25) scale(1.06 1)" font-size="10.1" text-anchor="middle">2.0</text>
<text transform="translate(173.14 158.25) scale(1.06 1)" font-size="10.1" text-anchor="middle">2.5</text>
<text transform="translate(201.35 158.25) scale(1.06 1)" font-size="10.1" text-anchor="middle">3.0</text>
<text transform="translate(29.6 150.05) scale(1.06 1)" font-size="10.1" text-anchor="end">0.0</text>
<text transform="translate(29.6 126.46) scale(1.06 1)" font-size="10.1" text-anchor="end">0.2</text>
<text transform="translate(29.6 102.87) scale(1.06 1)" font-size="10.1" text-anchor="end">0.4</text>
<text transform="translate(29.6 79.27) scale(1.06 1)" font-size="10.1" text-anchor="end">0.6</text>
<text transform="translate(29.6 55.68) scale(1.06 1)" font-size="10.1" text-anchor="end">0.8</text>
<text transform="translate(29.6 32.09) scale(1.06 1)" font-size="10.1" text-anchor="end">1.0</text>
<text transform="translate(29.6 8.5) scale(1.06 1)" font-size="10.1" text-anchor="end">1.2</text>
<text transform="translate(208.15 150.45) scale(1.06 1)" font-size="10.1" text-anchor="start">0.0</text>
<text transform="translate(208.15 103.27) scale(1.06 1)" font-size="10.1" text-anchor="start">0.5</text>
<text transform="translate(208.15 56.08) scale(1.06 1)" font-size="10.1" text-anchor="start">1.0</text>
<text transform="translate(208.15 8.9) scale(1.06 1)" font-size="10.1" text-anchor="start">1.5</text>
<text x="7" y="16.5" font-size="14.5" text-anchor="start" font-weight="bold">a</text>
<text transform="translate(9.6 81.6) rotate(-90)" font-size="12.8" text-anchor="middle">Voltage (V)</text>
<text transform="translate(226 12) rotate(90)" font-size="12.8">Power density (W <tspan dx="2.5">cm</tspan><tspan dy="-6.8" font-size="9.8">-2</tspan><tspan dy="6.8" dx="0.6">)</tspan></text>
<text x="55.8" y="168.7" font-size="12.7">Current density (A cm<tspan dy="-6.8" font-size="9.8">-2</tspan><tspan dy="6.8" dx="1.0">)</tspan></text>
<polygon points="78.00,15.56 80.70,18.40 78.00,21.23 75.30,18.40" fill="#7986b8"/>
<text x="93.7" y="23" font-size="11.2" text-anchor="start">600 <tspan dx="1.0" dy="-5.4" font-size="7.0">o</tspan><tspan dy="5.4">C</tspan></text>
<polygon points="139.80,21.23 142.43,16.60 137.18,16.60" fill="#f3bdb7"/>
<text x="155.4" y="23" font-size="11.2" text-anchor="start">550 <tspan dx="1.0" dy="-5.4" font-size="7.0">o</tspan><tspan dy="5.4">C</tspan></text>
<polygon points="78.00,30.58 80.62,35.20 75.38,35.20" fill="#f8a23a"/>
<text x="93.7" y="37.6" font-size="11.2" text-anchor="start">500 <tspan dx="1.0" dy="-5.4" font-size="7.0">o</tspan><tspan dy="5.4">C</tspan></text>
<circle cx="139.80" cy="33.30" r="1.99" fill="#5d9162"/>
<text x="155.4" y="37.6" font-size="11.2" text-anchor="start">450 <tspan dx="1.0" dy="-5.4" font-size="7.0">o</tspan><tspan dy="5.4">C</tspan></text>
<rect x="106.86" y="46.86" width="3.87" height="3.87" fill="#a85de3"/>
<text x="124" y="52.6" font-size="11.2" text-anchor="start">400 <tspan dx="1.0" dy="-5.4" font-size="7.0">o</tspan><tspan dy="5.4">C</tspan></text>
<text x="157.5" y="127.8" font-size="11" text-anchor="middle">Powder-packed</text>
<text x="158.5" y="141.4" font-size="11" text-anchor="middle">PNC73</text>
<clipPath id="c2"><rect x="272.65" y="4.80" width="165.90" height="141.20"/></clipPath>
<g clip-path="url(#c2)">
<rect x="271.29" y="23.67" width="3.51" height="3.51" fill="#a85de3"/>
<rect x="272.28" y="25.22" width="3.51" height="3.51" fill="#a85de3"/>
<rect x="273.26" y="26.79" width="3.51" height="3.51" fill="#a85de3"/>
<rect x="274.25" y="28.36" width="3.51" height="3.51" fill="#a85de3"/>
<rect x="275.24" y="29.93" width="3.51" height="3.51" fill="#a85de3"/>
<rect x="276.23" y="31.50" width="3.51" height="3.51" fill="#a85de3"/>
<rect x="277.21" y="33.08" width="3.51" height="3.51" fill="#a85de3"/>
<rect x="278.20" y="34.66" width="3.51" height="3.51" fill="#a85de3"/>
<rect x="279.19" y="36.26" width="3.51" height="3.51" fill="#a85de3"/>
<rect x="280.18" y="37.87" width="3.51" height="3.51" fill="#a85de3"/>
<rect x="281.16" y="39.50" width="3.51" height="3.51" fill="#a85de3"/>
<rect x="282.15" y="41.15" width="3.51" height="3.51" fill="#a85de3"/>
<rect x="283.14" y="42.81" width="3.51" height="3.51" fill="#a85de3"/>
<rect x="284.13" y="44.48" width="3.51" height="3.51" fill="#a85de3"/>
<rect x="285.12" y="46.17" width="3.51" height="3.51" fill="#a85de3"/>
<rect x="286.10" y="47.89" width="3.51" height="3.51" fill="#a85de3"/>
<rect x="287.09" y="49.63" width="3.51" height="3.51" fill="#a85de3"/>
<rect x="288.08" y="51.41" width="3.51" height="3.51" fill="#a85de3"/>
<rect x="289.06" y="53.23" width="3.51" height="3.51" fill="#a85de3"/>
<rect x="290.05" y="55.05" width="3.51" height="3.51" fill="#a85de3"/>
<rect x="291.04" y="56.89" width="3.51" height="3.51" fill="#a85de3"/>
<rect x="292.03" y="58.79" width="3.51" height="3.51" fill="#a85de3"/>
<rect x="293.01" y="60.81" width="3.51" height="3.51" fill="#a85de3"/>
<rect x="294.00" y="62.99" width="3.51" height="3.51" fill="#a85de3"/>
<rect x="294.99" y="65.45" width="3.51" height="3.51" fill="#a85de3"/>
<rect x="295.98" y="68.19" width="3.51" height="3.51" fill="#a85de3"/>
<rect x="296.96" y="71.07" width="3.51" height="3.51" fill="#a85de3"/>
<rect x="297.95" y="73.95" width="3.51" height="3.51" fill="#a85de3"/>
<rect x="298.94" y="76.72" width="3.51" height="3.51" fill="#a85de3"/>
<rect x="299.93" y="79.50" width="3.51" height="3.51" fill="#a85de3"/>
<rect x="300.91" y="82.27" width="3.51" height="3.51" fill="#a85de3"/>
<rect x="301.90" y="85.00" width="3.51" height="3.51" fill="#a85de3"/>
<rect x="302.89" y="87.61" width="3.51" height="3.51" fill="#a85de3"/>
<rect x="303.88" y="90.01" width="3.51" height="3.51" fill="#a85de3"/>
<rect x="305.46" y="94.16" width="3.51" height="3.51" fill="#a85de3"/>
<rect x="306.05" y="95.53" width="3.51" height="3.51" fill="#a85de3"/>
<rect x="306.44" y="97.11" width="3.51" height="3.51" fill="#a85de3"/>
<rect x="306.72" y="99.57" width="3.51" height="3.51" fill="#a85de3"/>
<rect x="306.88" y="104.78" width="3.51" height="3.51" fill="#a85de3"/>
<rect x="307.04" y="111.30" width="3.51" height="3.51" fill="#a85de3"/>
<circle cx="272.65" cy="23.63" r="2.18" fill="#5d9162"/>
<circle cx="274.44" cy="25.20" r="2.18" fill="#5d9162"/>
<circle cx="276.23" cy="26.91" r="2.18" fill="#5d9162"/>
<circle cx="278.01" cy="28.74" r="2.18" fill="#5d9162"/>
<circle cx="279.80" cy="30.66" r="2.18" fill="#5d9162"/>
<circle cx="281.59" cy="32.73" r="2.18" fill="#5d9162"/>
<circle cx="283.38" cy="35.02" r="2.18" fill="#5d9162"/>
<circle cx="285.17" cy="37.40" r="2.18" fill="#5d9162"/>
<circle cx="286.95" cy="39.72" r="2.18" fill="#5d9162"/>
<circle cx="288.74" cy="41.88" r="2.18" fill="#5d9162"/>
<circle cx="290.53" cy="43.98" r="2.18" fill="#5d9162"/>
<circle cx="292.32" cy="46.05" r="2.18" fill="#5d9162"/>
<circle cx="294.11" cy="48.14" r="2.18" fill="#5d9162"/>
<circle cx="295.90" cy="50.29" r="2.18" fill="#5d9162"/>
<circle cx="297.68" cy="52.54" r="2.18" fill="#5d9162"/>
<circle cx="299.47" cy="54.84" r="2.18" fill="#5d9162"/>
<circle cx="301.26" cy="57.17" r="2.18" fill="#5d9162"/>
<circle cx="303.05" cy="59.49" r="2.18" fill="#5d9162"/>
<circle cx="304.84" cy="61.77" r="2.18" fill="#5d9162"/>
<circle cx="306.62" cy="63.94" r="2.18" fill="#5d9162"/>
<circle cx="308.41" cy="66.06" r="2.18" fill="#5d9162"/>
<circle cx="310.20" cy="68.23" r="2.18" fill="#5d9162"/>
<circle cx="311.99" cy="70.55" r="2.18" fill="#5d9162"/>
<circle cx="313.78" cy="73.11" r="2.18" fill="#5d9162"/>
<circle cx="315.56" cy="75.99" r="2.18" fill="#5d9162"/>
<circle cx="317.35" cy="79.09" r="2.18" fill="#5d9162"/>
<circle cx="319.14" cy="82.31" r="2.18" fill="#5d9162"/>
<circle cx="320.93" cy="85.52" r="2.18" fill="#5d9162"/>
<circle cx="322.72" cy="88.61" r="2.18" fill="#5d9162"/>
<circle cx="324.50" cy="91.49" r="2.18" fill="#5d9162"/>
<circle cx="326.29" cy="94.26" r="2.18" fill="#5d9162"/>
<circle cx="328.08" cy="97.01" r="2.18" fill="#5d9162"/>
<circle cx="329.87" cy="99.72" r="2.18" fill="#5d9162"/>
<circle cx="331.66" cy="102.39" r="2.18" fill="#5d9162"/>
<circle cx="333.45" cy="105.02" r="2.18" fill="#5d9162"/>
<circle cx="335.23" cy="107.60" r="2.18" fill="#5d9162"/>
<circle cx="337.02" cy="110.14" r="2.18" fill="#5d9162"/>
<circle cx="338.81" cy="112.62" r="2.18" fill="#5d9162"/>
<circle cx="340.60" cy="115.06" r="2.18" fill="#5d9162"/>
<circle cx="342.39" cy="117.43" r="2.18" fill="#5d9162"/>
<circle cx="344.17" cy="119.74" r="2.18" fill="#5d9162"/>
<circle cx="345.96" cy="122.00" r="2.18" fill="#5d9162"/>
<polygon points="272.65,16.57 275.59,21.75 269.71,21.75" fill="#f8a23a"/>
<polygon points="276.55,19.43 279.49,24.61 273.61,24.61" fill="#f8a23a"/>
<polygon points="280.44,21.30 283.38,26.48 277.50,26.48" fill="#f8a23a"/>
<polygon points="284.34,24.97 287.28,30.15 281.40,30.15" fill="#f8a23a"/>
<polygon points="288.24,30.49 291.18,35.67 285.30,35.67" fill="#f8a23a"/>
<polygon points="292.13,35.25 295.07,40.43 289.19,40.43" fill="#f8a23a"/>
<polygon points="296.03,39.24 298.97,44.42 293.09,44.42" fill="#f8a23a"/>
<polygon points="299.93,43.01 302.87,48.19 296.99,48.19" fill="#f8a23a"/>
<polygon points="303.82,46.78 306.76,51.96 300.88,51.96" fill="#f8a23a"/>
<polygon points="307.72,50.66 310.66,55.84 304.78,55.84" fill="#f8a23a"/>
<polygon points="311.62,54.55 314.56,59.73 308.68,59.73" fill="#f8a23a"/>
<polygon points="315.52,58.43 318.46,63.61 312.58,63.61" fill="#f8a23a"/>
<polygon points="319.41,62.34 322.35,67.52 316.47,67.52" fill="#f8a23a"/>
<polygon points="323.31,66.28 326.25,71.46 320.37,71.46" fill="#f8a23a"/>
<polygon points="327.21,70.24 330.15,75.42 324.27,75.42" fill="#f8a23a"/>
<polygon points="331.10,74.23 334.04,79.41 328.16,79.41" fill="#f8a23a"/>
<polygon points="335.00,78.22 337.94,83.40 332.06,83.40" fill="#f8a23a"/>
<polygon points="338.90,82.23 341.84,87.41 335.96,87.41" fill="#f8a23a"/>
<polygon points="342.79,86.23 345.73,91.41 339.85,91.41" fill="#f8a23a"/>
<polygon points="346.69,90.23 349.63,95.41 343.75,95.41" fill="#f8a23a"/>
<polygon points="350.59,94.24 353.53,99.42 347.65,99.42" fill="#f8a23a"/>
<polygon points="354.48,98.25 357.42,103.43 351.54,103.43" fill="#f8a23a"/>
<polygon points="358.38,102.26 361.32,107.44 355.44,107.44" fill="#f8a23a"/>
<polygon points="362.28,106.27 365.22,111.45 359.34,111.45" fill="#f8a23a"/>
<polygon points="366.17,110.30 369.11,115.48 363.23,115.48" fill="#f8a23a"/>
<polygon points="370.07,114.32 373.01,119.50 367.13,119.50" fill="#f8a23a"/>
<polygon points="373.97,118.35 376.91,123.53 371.03,123.53" fill="#f8a23a"/>
<polygon points="273.44,24.45 276.38,19.27 270.50,19.27" fill="#f3bdb7"/>
<polygon points="278.18,27.55 281.12,22.37 275.24,22.37" fill="#f3bdb7"/>
<polygon points="282.92,30.69 285.86,25.51 279.98,25.51" fill="#f3bdb7"/>
<polygon points="287.66,33.88 290.60,28.70 284.72,28.70" fill="#f3bdb7"/>
<polygon points="292.40,37.12 295.34,31.94 289.46,31.94" fill="#f3bdb7"/>
<polygon points="297.14,40.39 300.08,35.21 294.20,35.21" fill="#f3bdb7"/>
<polygon points="301.88,43.70 304.82,38.52 298.94,38.52" fill="#f3bdb7"/>
<polygon points="306.62,47.05 309.56,41.87 303.68,41.87" fill="#f3bdb7"/>
<polygon points="311.36,50.45 314.30,45.27 308.42,45.27" fill="#f3bdb7"/>
<polygon points="316.10,53.90 319.04,48.72 313.16,48.72" fill="#f3bdb7"/>
<polygon points="320.84,57.40 323.78,52.22 317.90,52.22" fill="#f3bdb7"/>
<polygon points="325.58,60.95 328.52,55.77 322.64,55.77" fill="#f3bdb7"/>
<polygon points="330.32,64.54 333.26,59.36 327.38,59.36" fill="#f3bdb7"/>
<polygon points="335.06,68.15 338.00,62.97 332.12,62.97" fill="#f3bdb7"/>
<polygon points="339.80,71.77 342.74,66.59 336.86,66.59" fill="#f3bdb7"/>
<polygon points="344.54,75.45 347.48,70.27 341.60,70.27" fill="#f3bdb7"/>
<polygon points="349.28,79.20 352.22,74.02 346.34,74.02" fill="#f3bdb7"/>
<polygon points="354.02,83.07 356.96,77.89 351.08,77.89" fill="#f3bdb7"/>
<polygon points="358.76,87.07 361.70,81.89 355.82,81.89" fill="#f3bdb7"/>
<polygon points="363.50,91.23 366.44,86.05 360.56,86.05" fill="#f3bdb7"/>
<polygon points="368.24,95.54 371.18,90.36 365.30,90.36" fill="#f3bdb7"/>
<polygon points="372.98,99.99 375.92,94.81 370.04,94.81" fill="#f3bdb7"/>
<polygon points="377.72,104.58 380.66,99.40 374.78,99.40" fill="#f3bdb7"/>
<polygon points="382.46,109.29 385.40,104.11 379.52,104.11" fill="#f3bdb7"/>
<polygon points="387.20,114.11 390.14,108.93 384.26,108.93" fill="#f3bdb7"/>
<polygon points="273.44,23.04 276.24,25.98 273.44,28.92 270.64,25.98" fill="#7986b8"/>
<polygon points="276.78,24.65 279.58,27.59 276.78,30.53 273.98,27.59" fill="#7986b8"/>
<polygon points="280.13,26.22 282.93,29.16 280.13,32.10 277.33,29.16" fill="#7986b8"/>
<polygon points="283.47,27.74 286.27,30.68 283.47,33.62 280.67,30.68" fill="#7986b8"/>
<polygon points="286.81,29.20 289.61,32.14 286.81,35.08 284.01,32.14" fill="#7986b8"/>
<polygon points="290.16,30.47 292.96,33.41 290.16,36.35 287.36,33.41" fill="#7986b8"/>
<polygon points="293.50,31.49 296.30,34.43 293.50,37.37 290.70,34.43" fill="#7986b8"/>
<polygon points="296.84,32.51 299.64,35.45 296.84,38.39 294.04,35.45" fill="#7986b8"/>
<polygon points="300.18,33.79 302.98,36.73 300.18,39.67 297.38,36.73" fill="#7986b8"/>
<polygon points="303.53,35.60 306.33,38.54 303.53,41.48 300.73,38.54" fill="#7986b8"/>
<polygon points="306.87,38.78 309.67,41.72 306.87,44.66 304.07,41.72" fill="#7986b8"/>
<polygon points="310.21,40.96 313.01,43.90 310.21,46.84 307.41,43.90" fill="#7986b8"/>
<polygon points="313.56,42.67 316.36,45.61 313.56,48.55 310.76,45.61" fill="#7986b8"/>
<polygon points="316.90,44.06 319.70,47.00 316.90,49.94 314.10,47.00" fill="#7986b8"/>
<polygon points="320.24,45.29 323.04,48.23 320.24,51.17 317.44,48.23" fill="#7986b8"/>
<polygon points="323.59,46.50 326.39,49.44 323.59,52.38 320.79,49.44" fill="#7986b8"/>
<polygon points="326.93,47.84 329.73,50.78 326.93,53.72 324.13,50.78" fill="#7986b8"/>
<polygon points="330.27,49.46 333.07,52.40 330.27,55.34 327.47,52.40" fill="#7986b8"/>
<polygon points="333.61,51.35 336.41,54.29 333.61,57.23 330.81,54.29" fill="#7986b8"/>
<polygon points="336.96,53.38 339.76,56.32 336.96,59.26 334.16,56.32" fill="#7986b8"/>
<polygon points="340.30,55.50 343.10,58.44 340.30,61.38 337.50,58.44" fill="#7986b8"/>
<polygon points="343.64,57.64 346.44,60.58 343.64,63.52 340.84,60.58" fill="#7986b8"/>
<polygon points="346.99,59.73 349.79,62.67 346.99,65.61 344.19,62.67" fill="#7986b8"/>
<polygon points="350.33,61.72 353.13,64.66 350.33,67.60 347.53,64.66" fill="#7986b8"/>
<polygon points="353.67,63.54 356.47,66.48 353.67,69.42 350.87,66.48" fill="#7986b8"/>
<polygon points="357.02,65.24 359.82,68.18 357.02,71.12 354.22,68.18" fill="#7986b8"/>
<polygon points="360.36,66.85 363.16,69.79 360.36,72.73 357.56,69.79" fill="#7986b8"/>
<polygon points="363.70,68.46 366.50,71.40 363.70,74.34 360.90,71.40" fill="#7986b8"/>
<polygon points="367.05,70.12 369.85,73.06 367.05,76.00 364.25,73.06" fill="#7986b8"/>
<polygon points="370.39,71.89 373.19,74.83 370.39,77.77 367.59,74.83" fill="#7986b8"/>
<polygon points="373.73,73.83 376.53,76.77 373.73,79.71 370.93,76.77" fill="#7986b8"/>
<polygon points="377.07,75.91 379.87,78.85 377.07,81.79 374.27,78.85" fill="#7986b8"/>
<polygon points="380.42,78.09 383.22,81.03 380.42,83.97 377.62,81.03" fill="#7986b8"/>
<polygon points="383.76,80.34 386.56,83.28 383.76,86.22 380.96,83.28" fill="#7986b8"/>
<polygon points="387.10,82.62 389.90,85.56 387.10,88.50 384.30,85.56" fill="#7986b8"/>
<polygon points="390.45,84.99 393.25,87.93 390.45,90.87 387.65,87.93" fill="#7986b8"/>
<polygon points="393.79,87.43 396.59,90.37 393.79,93.31 390.99,90.37" fill="#7986b8"/>
<polygon points="397.13,89.89 399.93,92.83 397.13,95.77 394.33,92.83" fill="#7986b8"/>
<polygon points="400.48,92.32 403.28,95.26 400.48,98.20 397.68,95.26" fill="#7986b8"/>
<polygon points="403.82,94.76 406.62,97.70 403.82,100.64 401.02,97.70" fill="#7986b8"/>
<polygon points="407.16,97.19 409.96,100.13 407.16,103.07 404.36,100.13" fill="#7986b8"/>
<polygon points="410.50,99.64 413.31,102.58 410.50,105.52 407.70,102.58" fill="#7986b8"/>
<rect x="271.45" y="143.82" width="3.19" height="3.19" fill="#fff" stroke="#a85de3" stroke-width="1.05"/>
<rect x="272.43" y="142.40" width="3.19" height="3.19" fill="#fff" stroke="#a85de3" stroke-width="1.05"/>
<rect x="273.42" y="141.02" width="3.19" height="3.19" fill="#fff" stroke="#a85de3" stroke-width="1.05"/>
<rect x="274.41" y="139.67" width="3.19" height="3.19" fill="#fff" stroke="#a85de3" stroke-width="1.05"/>
<rect x="275.40" y="138.37" width="3.19" height="3.19" fill="#fff" stroke="#a85de3" stroke-width="1.05"/>
<rect x="276.38" y="137.10" width="3.19" height="3.19" fill="#fff" stroke="#a85de3" stroke-width="1.05"/>
<rect x="277.37" y="135.86" width="3.19" height="3.19" fill="#fff" stroke="#a85de3" stroke-width="1.05"/>
<rect x="278.36" y="134.67" width="3.19" height="3.19" fill="#fff" stroke="#a85de3" stroke-width="1.05"/>
<rect x="279.35" y="133.52" width="3.19" height="3.19" fill="#fff" stroke="#a85de3" stroke-width="1.05"/>
<rect x="280.33" y="132.40" width="3.19" height="3.19" fill="#fff" stroke="#a85de3" stroke-width="1.05"/>
<rect x="281.32" y="131.33" width="3.19" height="3.19" fill="#fff" stroke="#a85de3" stroke-width="1.05"/>
<rect x="282.31" y="130.30" width="3.19" height="3.19" fill="#fff" stroke="#a85de3" stroke-width="1.05"/>
<rect x="283.30" y="129.31" width="3.19" height="3.19" fill="#fff" stroke="#a85de3" stroke-width="1.05"/>
<rect x="284.28" y="128.36" width="3.19" height="3.19" fill="#fff" stroke="#a85de3" stroke-width="1.05"/>
<rect x="285.27" y="127.46" width="3.19" height="3.19" fill="#fff" stroke="#a85de3" stroke-width="1.05"/>
<rect x="286.26" y="126.60" width="3.19" height="3.19" fill="#fff" stroke="#a85de3" stroke-width="1.05"/>
<rect x="287.25" y="125.78" width="3.19" height="3.19" fill="#fff" stroke="#a85de3" stroke-width="1.05"/>
<rect x="288.23" y="125.02" width="3.19" height="3.19" fill="#fff" stroke="#a85de3" stroke-width="1.05"/>
<rect x="289.22" y="124.31" width="3.19" height="3.19" fill="#fff" stroke="#a85de3" stroke-width="1.05"/>
<rect x="290.21" y="123.64" width="3.19" height="3.19" fill="#fff" stroke="#a85de3" stroke-width="1.05"/>
<rect x="291.20" y="123.02" width="3.19" height="3.19" fill="#fff" stroke="#a85de3" stroke-width="1.05"/>
<rect x="292.18" y="122.46" width="3.19" height="3.19" fill="#fff" stroke="#a85de3" stroke-width="1.05"/>
<rect x="293.17" y="121.97" width="3.19" height="3.19" fill="#fff" stroke="#a85de3" stroke-width="1.05"/>
<rect x="294.16" y="121.59" width="3.19" height="3.19" fill="#fff" stroke="#a85de3" stroke-width="1.05"/>
<rect x="295.15" y="121.33" width="3.19" height="3.19" fill="#fff" stroke="#a85de3" stroke-width="1.05"/>
<rect x="296.13" y="121.22" width="3.19" height="3.19" fill="#fff" stroke="#a85de3" stroke-width="1.05"/>
<rect x="297.12" y="121.22" width="3.19" height="3.19" fill="#fff" stroke="#a85de3" stroke-width="1.05"/>
<rect x="298.11" y="121.29" width="3.19" height="3.19" fill="#fff" stroke="#a85de3" stroke-width="1.05"/>
<rect x="299.10" y="121.39" width="3.19" height="3.19" fill="#fff" stroke="#a85de3" stroke-width="1.05"/>
<rect x="300.08" y="121.56" width="3.19" height="3.19" fill="#fff" stroke="#a85de3" stroke-width="1.05"/>
<rect x="301.07" y="121.80" width="3.19" height="3.19" fill="#fff" stroke="#a85de3" stroke-width="1.05"/>
<rect x="302.06" y="122.08" width="3.19" height="3.19" fill="#fff" stroke="#a85de3" stroke-width="1.05"/>
<rect x="303.05" y="122.38" width="3.19" height="3.19" fill="#fff" stroke="#a85de3" stroke-width="1.05"/>
<rect x="304.03" y="122.67" width="3.19" height="3.19" fill="#fff" stroke="#a85de3" stroke-width="1.05"/>
<rect x="305.61" y="123.37" width="3.19" height="3.19" fill="#fff" stroke="#a85de3" stroke-width="1.05"/>
<rect x="306.21" y="123.59" width="3.19" height="3.19" fill="#fff" stroke="#a85de3" stroke-width="1.05"/>
<rect x="306.60" y="124.04" width="3.19" height="3.19" fill="#fff" stroke="#a85de3" stroke-width="1.05"/>
<rect x="306.88" y="124.95" width="3.19" height="3.19" fill="#fff" stroke="#a85de3" stroke-width="1.05"/>
<rect x="307.04" y="127.15" width="3.19" height="3.19" fill="#fff" stroke="#a85de3" stroke-width="1.05"/>
<rect x="307.19" y="129.93" width="3.19" height="3.19" fill="#fff" stroke="#a85de3" stroke-width="1.05"/>
<circle cx="272.65" cy="146.00" r="1.78" fill="#fff" stroke="#5d9162" stroke-width="1.05"/>
<circle cx="274.44" cy="143.38" r="1.78" fill="#fff" stroke="#5d9162" stroke-width="1.05"/>
<circle cx="276.23" cy="140.82" r="1.78" fill="#fff" stroke="#5d9162" stroke-width="1.05"/>
<circle cx="278.01" cy="138.36" r="1.78" fill="#fff" stroke="#5d9162" stroke-width="1.05"/>
<circle cx="279.80" cy="135.98" r="1.78" fill="#fff" stroke="#5d9162" stroke-width="1.05"/>
<circle cx="281.59" cy="133.69" r="1.78" fill="#fff" stroke="#5d9162" stroke-width="1.05"/>
<circle cx="283.38" cy="131.53" r="1.78" fill="#fff" stroke="#5d9162" stroke-width="1.05"/>
<circle cx="285.17" cy="129.48" r="1.78" fill="#fff" stroke="#5d9162" stroke-width="1.05"/>
<circle cx="286.95" cy="127.52" r="1.78" fill="#fff" stroke="#5d9162" stroke-width="1.05"/>
<circle cx="288.74" cy="125.64" r="1.78" fill="#fff" stroke="#5d9162" stroke-width="1.05"/>
<circle cx="290.53" cy="123.83" r="1.78" fill="#fff" stroke="#5d9162" stroke-width="1.05"/>
<circle cx="292.32" cy="122.11" r="1.78" fill="#fff" stroke="#5d9162" stroke-width="1.05"/>
<circle cx="294.11" cy="120.48" r="1.78" fill="#fff" stroke="#5d9162" stroke-width="1.05"/>
<circle cx="295.90" cy="118.96" r="1.78" fill="#fff" stroke="#5d9162" stroke-width="1.05"/>
<circle cx="297.68" cy="117.57" r="1.78" fill="#fff" stroke="#5d9162" stroke-width="1.05"/>
<circle cx="299.47" cy="116.29" r="1.78" fill="#fff" stroke="#5d9162" stroke-width="1.05"/>
<circle cx="301.26" cy="115.12" r="1.78" fill="#fff" stroke="#5d9162" stroke-width="1.05"/>
<circle cx="303.05" cy="114.04" r="1.78" fill="#fff" stroke="#5d9162" stroke-width="1.05"/>
<circle cx="304.84" cy="113.06" r="1.78" fill="#fff" stroke="#5d9162" stroke-width="1.05"/>
<circle cx="306.62" cy="112.12" r="1.78" fill="#fff" stroke="#5d9162" stroke-width="1.05"/>
<circle cx="308.41" cy="111.26" r="1.78" fill="#fff" stroke="#5d9162" stroke-width="1.05"/>
<circle cx="310.20" cy="110.52" r="1.78" fill="#fff" stroke="#5d9162" stroke-width="1.05"/>
<circle cx="311.99" cy="109.93" r="1.78" fill="#fff" stroke="#5d9162" stroke-width="1.05"/>
<circle cx="313.78" cy="109.57" r="1.78" fill="#fff" stroke="#5d9162" stroke-width="1.05"/>
<circle cx="315.56" cy="109.49" r="1.78" fill="#fff" stroke="#5d9162" stroke-width="1.05"/>
<circle cx="317.35" cy="109.65" r="1.78" fill="#fff" stroke="#5d9162" stroke-width="1.05"/>
<circle cx="319.14" cy="110.02" r="1.78" fill="#fff" stroke="#5d9162" stroke-width="1.05"/>
<circle cx="320.93" cy="110.52" r="1.78" fill="#fff" stroke="#5d9162" stroke-width="1.05"/>
<circle cx="322.72" cy="111.08" r="1.78" fill="#fff" stroke="#5d9162" stroke-width="1.05"/>
<circle cx="324.50" cy="111.65" r="1.78" fill="#fff" stroke="#5d9162" stroke-width="1.05"/>
<circle cx="326.29" cy="112.28" r="1.78" fill="#fff" stroke="#5d9162" stroke-width="1.05"/>
<circle cx="328.08" cy="113.00" r="1.78" fill="#fff" stroke="#5d9162" stroke-width="1.05"/>
<circle cx="329.87" cy="113.82" r="1.78" fill="#fff" stroke="#5d9162" stroke-width="1.05"/>
<circle cx="331.66" cy="114.73" r="1.78" fill="#fff" stroke="#5d9162" stroke-width="1.05"/>
<circle cx="333.45" cy="115.72" r="1.78" fill="#fff" stroke="#5d9162" stroke-width="1.05"/>
<circle cx="335.23" cy="116.80" r="1.78" fill="#fff" stroke="#5d9162" stroke-width="1.05"/>
<circle cx="337.02" cy="117.95" r="1.78" fill="#fff" stroke="#5d9162" stroke-width="1.05"/>
<circle cx="338.81" cy="119.17" r="1.78" fill="#fff" stroke="#5d9162" stroke-width="1.05"/>
<circle cx="340.60" cy="120.45" r="1.78" fill="#fff" stroke="#5d9162" stroke-width="1.05"/>
<circle cx="342.39" cy="121.79" r="1.78" fill="#fff" stroke="#5d9162" stroke-width="1.05"/>
<circle cx="344.17" cy="123.18" r="1.78" fill="#fff" stroke="#5d9162" stroke-width="1.05"/>
<circle cx="345.96" cy="124.62" r="1.78" fill="#fff" stroke="#5d9162" stroke-width="1.05"/>
<polygon points="272.65,143.72 274.93,147.74 270.37,147.74" fill="#fff" stroke="#f8a23a" stroke-width="1.05"/>
<polygon points="276.55,137.86 278.83,141.89 274.26,141.89" fill="#fff" stroke="#f8a23a" stroke-width="1.05"/>
<polygon points="280.44,132.18 282.73,136.21 278.16,136.21" fill="#fff" stroke="#f8a23a" stroke-width="1.05"/>
<polygon points="284.34,126.94 286.62,130.96 282.06,130.96" fill="#fff" stroke="#f8a23a" stroke-width="1.05"/>
<polygon points="288.24,122.39 290.52,126.42 285.95,126.42" fill="#fff" stroke="#f8a23a" stroke-width="1.05"/>
<polygon points="292.13,118.19 294.42,122.21 289.85,122.21" fill="#fff" stroke="#f8a23a" stroke-width="1.05"/>
<polygon points="296.03,114.22 298.31,118.24 293.75,118.24" fill="#fff" stroke="#f8a23a" stroke-width="1.05"/>
<polygon points="299.93,110.55 302.21,114.57 297.64,114.57" fill="#fff" stroke="#f8a23a" stroke-width="1.05"/>
<polygon points="303.82,107.24 306.11,111.27 301.54,111.27" fill="#fff" stroke="#f8a23a" stroke-width="1.05"/>
<polygon points="307.72,104.34 310.01,108.36 305.44,108.36" fill="#fff" stroke="#f8a23a" stroke-width="1.05"/>
<polygon points="311.62,101.80 313.90,105.83 309.33,105.83" fill="#fff" stroke="#f8a23a" stroke-width="1.05"/>
<polygon points="315.52,99.63 317.80,103.66 313.23,103.66" fill="#fff" stroke="#f8a23a" stroke-width="1.05"/>
<polygon points="319.41,97.85 321.70,101.87 317.13,101.87" fill="#fff" stroke="#f8a23a" stroke-width="1.05"/>
<polygon points="323.31,96.45 325.59,100.47 321.02,100.47" fill="#fff" stroke="#f8a23a" stroke-width="1.05"/>
<polygon points="327.21,95.44 329.49,99.46 324.92,99.46" fill="#fff" stroke="#f8a23a" stroke-width="1.05"/>
<polygon points="331.10,94.82 333.39,98.85 328.82,98.85" fill="#fff" stroke="#f8a23a" stroke-width="1.05"/>
<polygon points="335.00,94.59 337.28,98.62 332.72,98.62" fill="#fff" stroke="#f8a23a" stroke-width="1.05"/>
<polygon points="338.90,94.74 341.18,98.77 336.61,98.77" fill="#fff" stroke="#f8a23a" stroke-width="1.05"/>
<polygon points="342.79,95.28 345.08,99.30 340.51,99.30" fill="#fff" stroke="#f8a23a" stroke-width="1.05"/>
<polygon points="346.69,96.19 348.97,100.21 344.41,100.21" fill="#fff" stroke="#f8a23a" stroke-width="1.05"/>
<polygon points="350.59,97.48 352.87,101.50 348.30,101.50" fill="#fff" stroke="#f8a23a" stroke-width="1.05"/>
<polygon points="354.48,99.15 356.77,103.18 352.20,103.18" fill="#fff" stroke="#f8a23a" stroke-width="1.05"/>
<polygon points="358.38,101.21 360.66,105.23 356.10,105.23" fill="#fff" stroke="#f8a23a" stroke-width="1.05"/>
<polygon points="362.28,103.65 364.56,107.68 359.99,107.68" fill="#fff" stroke="#f8a23a" stroke-width="1.05"/>
<polygon points="366.17,106.48 368.46,110.50 363.89,110.50" fill="#fff" stroke="#f8a23a" stroke-width="1.05"/>
<polygon points="370.07,109.69 372.35,113.72 367.79,113.72" fill="#fff" stroke="#f8a23a" stroke-width="1.05"/>
<polygon points="373.97,113.29 376.25,117.32 371.68,117.32" fill="#fff" stroke="#f8a23a" stroke-width="1.05"/>
<polygon points="273.44,147.09 275.72,143.06 271.16,143.06" fill="#fff" stroke="#f3bdb7" stroke-width="1.05"/>
<polygon points="278.18,140.13 280.46,136.10 275.90,136.10" fill="#fff" stroke="#f3bdb7" stroke-width="1.05"/>
<polygon points="282.92,133.53 285.20,129.50 280.64,129.50" fill="#fff" stroke="#f3bdb7" stroke-width="1.05"/>
<polygon points="287.66,127.30 289.94,123.27 285.38,123.27" fill="#fff" stroke="#f3bdb7" stroke-width="1.05"/>
<polygon points="292.40,121.45 294.68,117.42 290.12,117.42" fill="#fff" stroke="#f3bdb7" stroke-width="1.05"/>
<polygon points="297.14,115.98 299.42,111.96 294.86,111.96" fill="#fff" stroke="#f3bdb7" stroke-width="1.05"/>
<polygon points="301.88,110.90 304.16,106.88 299.60,106.88" fill="#fff" stroke="#f3bdb7" stroke-width="1.05"/>
<polygon points="306.62,106.22 308.90,102.20 304.34,102.20" fill="#fff" stroke="#f3bdb7" stroke-width="1.05"/>
<polygon points="311.36,101.95 313.64,97.93 309.08,97.93" fill="#fff" stroke="#f3bdb7" stroke-width="1.05"/>
<polygon points="316.10,98.10 318.38,94.08 313.82,94.08" fill="#fff" stroke="#f3bdb7" stroke-width="1.05"/>
<polygon points="320.84,94.68 323.12,90.65 318.56,90.65" fill="#fff" stroke="#f3bdb7" stroke-width="1.05"/>
<polygon points="325.58,91.69 327.86,87.66 323.30,87.66" fill="#fff" stroke="#f3bdb7" stroke-width="1.05"/>
<polygon points="330.32,89.14 332.60,85.12 328.04,85.12" fill="#fff" stroke="#f3bdb7" stroke-width="1.05"/>
<polygon points="335.06,87.01 337.34,82.99 332.78,82.99" fill="#fff" stroke="#f3bdb7" stroke-width="1.05"/>
<polygon points="339.80,85.31 342.08,81.29 337.52,81.29" fill="#fff" stroke="#f3bdb7" stroke-width="1.05"/>
<polygon points="344.54,84.08 346.82,80.06 342.26,80.06" fill="#fff" stroke="#f3bdb7" stroke-width="1.05"/>
<polygon points="349.28,83.35 351.56,79.32 347.00,79.32" fill="#fff" stroke="#f3bdb7" stroke-width="1.05"/>
<polygon points="354.02,83.15 356.30,79.13 351.74,79.13" fill="#fff" stroke="#f3bdb7" stroke-width="1.05"/>
<polygon points="358.76,83.54 361.04,79.52 356.48,79.52" fill="#fff" stroke="#f3bdb7" stroke-width="1.05"/>
<polygon points="363.50,84.57 365.78,80.55 361.22,80.55" fill="#fff" stroke="#f3bdb7" stroke-width="1.05"/>
<polygon points="368.24,86.26 370.52,82.23 365.96,82.23" fill="#fff" stroke="#f3bdb7" stroke-width="1.05"/>
<polygon points="372.98,88.61 375.26,84.58 370.70,84.58" fill="#fff" stroke="#f3bdb7" stroke-width="1.05"/>
<polygon points="377.72,91.64 380.00,87.62 375.44,87.62" fill="#fff" stroke="#f3bdb7" stroke-width="1.05"/>
<polygon points="382.46,95.37 384.74,91.35 380.18,91.35" fill="#fff" stroke="#f3bdb7" stroke-width="1.05"/>
<polygon points="387.20,99.80 389.48,95.78 384.92,95.78" fill="#fff" stroke="#f3bdb7" stroke-width="1.05"/>
<polygon points="273.44,142.46 275.71,144.85 273.44,147.24 271.17,144.85" fill="#fff" stroke="#7986b8" stroke-width="1.05"/>
<polygon points="276.78,137.66 279.06,140.05 276.78,142.44 274.51,140.05" fill="#fff" stroke="#7986b8" stroke-width="1.05"/>
<polygon points="280.13,133.00 282.40,135.38 280.13,137.77 277.85,135.38" fill="#fff" stroke="#7986b8" stroke-width="1.05"/>
<polygon points="283.47,128.45 285.74,130.84 283.47,133.23 281.19,130.84" fill="#fff" stroke="#7986b8" stroke-width="1.05"/>
<polygon points="286.81,124.02 289.09,126.40 286.81,128.79 284.54,126.40" fill="#fff" stroke="#7986b8" stroke-width="1.05"/>
<polygon points="290.16,119.66 292.43,122.05 290.16,124.44 287.88,122.05" fill="#fff" stroke="#7986b8" stroke-width="1.05"/>
<polygon points="293.50,115.35 295.77,117.73 293.50,120.12 291.22,117.73" fill="#fff" stroke="#7986b8" stroke-width="1.05"/>
<polygon points="296.84,111.11 299.12,113.50 296.84,115.89 294.57,113.50" fill="#fff" stroke="#7986b8" stroke-width="1.05"/>
<polygon points="300.18,107.05 302.46,109.44 300.18,111.83 297.91,109.44" fill="#fff" stroke="#7986b8" stroke-width="1.05"/>
<polygon points="303.53,103.29 305.80,105.68 303.53,108.07 301.25,105.68" fill="#fff" stroke="#7986b8" stroke-width="1.05"/>
<polygon points="306.87,100.25 309.15,102.64 306.87,105.02 304.60,102.64" fill="#fff" stroke="#7986b8" stroke-width="1.05"/>
<polygon points="310.21,97.00 312.49,99.39 310.21,101.78 307.94,99.39" fill="#fff" stroke="#7986b8" stroke-width="1.05"/>
<polygon points="313.56,93.71 315.83,96.10 313.56,98.48 311.28,96.10" fill="#fff" stroke="#7986b8" stroke-width="1.05"/>
<polygon points="316.90,90.38 319.17,92.77 316.90,95.16 314.62,92.77" fill="#fff" stroke="#7986b8" stroke-width="1.05"/>
<polygon points="320.24,87.07 322.52,89.45 320.24,91.84 317.97,89.45" fill="#fff" stroke="#7986b8" stroke-width="1.05"/>
<polygon points="323.59,83.84 325.86,86.23 323.59,88.62 321.31,86.23" fill="#fff" stroke="#7986b8" stroke-width="1.05"/>
<polygon points="326.93,80.81 329.20,83.19 326.93,85.58 324.65,83.19" fill="#fff" stroke="#7986b8" stroke-width="1.05"/>
<polygon points="330.27,78.07 332.55,80.46 330.27,82.85 328.00,80.46" fill="#fff" stroke="#7986b8" stroke-width="1.05"/>
<polygon points="333.61,75.67 335.89,78.06 333.61,80.45 331.34,78.06" fill="#fff" stroke="#7986b8" stroke-width="1.05"/>
<polygon points="336.96,73.53 339.23,75.92 336.96,78.31 334.68,75.92" fill="#fff" stroke="#7986b8" stroke-width="1.05"/>
<polygon points="340.30,71.63 342.58,74.02 340.30,76.41 338.03,74.02" fill="#fff" stroke="#7986b8" stroke-width="1.05"/>
<polygon points="343.64,69.91 345.92,72.30 343.64,74.69 341.37,72.30" fill="#fff" stroke="#7986b8" stroke-width="1.05"/>
<polygon points="346.99,68.34 349.26,70.72 346.99,73.11 344.71,70.72" fill="#fff" stroke="#7986b8" stroke-width="1.05"/>
<polygon points="350.33,66.83 352.61,69.21 350.33,71.60 348.06,69.21" fill="#fff" stroke="#7986b8" stroke-width="1.05"/>
<polygon points="353.67,65.32 355.95,67.71 353.67,70.10 351.40,67.71" fill="#fff" stroke="#7986b8" stroke-width="1.05"/>
<polygon points="357.02,63.82 359.29,66.21 357.02,68.60 354.74,66.21" fill="#fff" stroke="#7986b8" stroke-width="1.05"/>
<polygon points="360.36,62.39 362.63,64.78 360.36,67.17 358.08,64.78" fill="#fff" stroke="#7986b8" stroke-width="1.05"/>
<polygon points="363.70,61.07 365.98,63.46 363.70,65.85 361.43,63.46" fill="#fff" stroke="#7986b8" stroke-width="1.05"/>
<polygon points="367.05,59.94 369.32,62.33 367.05,64.72 364.77,62.33" fill="#fff" stroke="#7986b8" stroke-width="1.05"/>
<polygon points="370.39,59.08 372.66,61.47 370.39,63.86 368.11,61.47" fill="#fff" stroke="#7986b8" stroke-width="1.05"/>
<polygon points="373.73,58.57 376.01,60.96 373.73,63.35 371.46,60.96" fill="#fff" stroke="#7986b8" stroke-width="1.05"/>
<polygon points="377.07,58.40 379.35,60.79 377.07,63.18 374.80,60.79" fill="#fff" stroke="#7986b8" stroke-width="1.05"/>
<polygon points="380.42,58.53 382.69,60.92 380.42,63.31 378.14,60.92" fill="#fff" stroke="#7986b8" stroke-width="1.05"/>
<polygon points="383.76,58.93 386.04,61.31 383.76,63.70 381.49,61.31" fill="#fff" stroke="#7986b8" stroke-width="1.05"/>
<polygon points="387.10,59.55 389.38,61.94 387.10,64.33 384.83,61.94" fill="#fff" stroke="#7986b8" stroke-width="1.05"/>
<polygon points="390.45,60.49 392.72,62.88 390.45,65.27 388.17,62.88" fill="#fff" stroke="#7986b8" stroke-width="1.05"/>
<polygon points="393.79,61.72 396.06,64.11 393.79,66.50 391.51,64.11" fill="#fff" stroke="#7986b8" stroke-width="1.05"/>
<polygon points="397.13,63.18 399.41,65.57 397.13,67.95 394.86,65.57" fill="#fff" stroke="#7986b8" stroke-width="1.05"/>
<polygon points="400.48,64.80 402.75,67.19 400.48,69.58 398.20,67.19" fill="#fff" stroke="#7986b8" stroke-width="1.05"/>
<polygon points="403.82,66.62 406.09,69.00 403.82,71.39 401.54,69.00" fill="#fff" stroke="#7986b8" stroke-width="1.05"/>
<polygon points="407.16,68.64 409.44,71.03 407.16,73.42 404.89,71.03" fill="#fff" stroke="#7986b8" stroke-width="1.05"/>
<polygon points="410.50,70.88 412.78,73.26 410.50,75.65 408.23,73.26" fill="#fff" stroke="#7986b8" stroke-width="1.05"/>
</g>
<path d="M272.65 4.80H438.55V146.00H272.65Z" fill="none" stroke="#0a0a0a" stroke-width="1"/>
<path d="M272.65 146.00v-2.2M312.15 146.00v-2.2M351.65 146.00v-2.2M391.15 146.00v-2.2M430.65 146.00v-2.2M292.40 146.00v-1.4M331.90 146.00v-1.4M371.40 146.00v-1.4M410.90 146.00v-1.4M272.65 146.00h2.2M272.65 122.47h2.2M272.65 98.93h2.2M272.65 75.40h2.2M272.65 51.87h2.2M272.65 28.33h2.2M272.65 4.80h2.2M272.65 134.23h1.4M272.65 110.70h1.4M272.65 87.17h1.4M272.65 63.63h1.4M272.65 40.10h1.4M272.65 16.57h1.4M438.55 146.00h-4.2M438.55 117.76h-4.2M438.55 89.52h-4.2M438.55 61.28h-4.2M438.55 33.04h-4.2M438.55 4.80h-4.2M438.55 131.88h-2.4M438.55 103.64h-2.4M438.55 75.40h-2.4M438.55 47.16h-2.4M438.55 18.92h-2.4" stroke="#0a0a0a" stroke-width="1"/>
<text transform="translate(272.65 158) scale(1.06 1)" font-size="10.1" text-anchor="middle">0.0</text>
<text transform="translate(312.15 158) scale(1.06 1)" font-size="10.1" text-anchor="middle">1.0</text>
<text transform="translate(351.65 158) scale(1.06 1)" font-size="10.1" text-anchor="middle">2.0</text>
<text transform="translate(391.15 158) scale(1.06 1)" font-size="10.1" text-anchor="middle">3.0</text>
<text transform="translate(430.65 158) scale(1.06 1)" font-size="10.1" text-anchor="middle">4.0</text>
<text transform="translate(270.15 149.8) scale(1.06 1)" font-size="10.1" text-anchor="end">0.0</text>
<text transform="translate(270.15 126.27) scale(1.06 1)" font-size="10.1" text-anchor="end">0.2</text>
<text transform="translate(270.15 102.73) scale(1.06 1)" font-size="10.1" text-anchor="end">0.4</text>
<text transform="translate(270.15 79.2) scale(1.06 1)" font-size="10.1" text-anchor="end">0.6</text>
<text transform="translate(270.15 55.67) scale(1.06 1)" font-size="10.1" text-anchor="end">0.8</text>
<text transform="translate(270.15 32.13) scale(1.06 1)" font-size="10.1" text-anchor="end">1.0</text>
<text transform="translate(270.15 8.6) scale(1.06 1)" font-size="10.1" text-anchor="end">1.2</text>
<text transform="translate(445.35 150.2) scale(1.06 1)" font-size="10.1" text-anchor="start">0.0</text>
<text transform="translate(445.35 121.96) scale(1.06 1)" font-size="10.1" text-anchor="start">0.5</text>
<text transform="translate(445.35 93.72) scale(1.06 1)" font-size="10.1" text-anchor="start">1.0</text>
<text transform="translate(445.35 65.48) scale(1.06 1)" font-size="10.1" text-anchor="start">1.5</text>
<text transform="translate(445.35 37.24) scale(1.06 1)" font-size="10.1" text-anchor="start">2.0</text>
<text transform="translate(445.35 9) scale(1.06 1)" font-size="10.1" text-anchor="start">2.5</text>
<text x="243.5" y="16.3" font-size="14.5" text-anchor="start" font-weight="bold">b</text>
<text transform="translate(250 82.6) rotate(-90)" font-size="12.8" text-anchor="middle">Voltage (V)</text>
<text transform="translate(461 18.5) rotate(90)" font-size="12.8">Power density (W <tspan dx="2.5">cm</tspan><tspan dy="-6.8" font-size="9.8">-2</tspan><tspan dy="6.8" dx="0.6">)</tspan></text>
<text x="287.2" y="167.5" font-size="12.7">Current density (A cm<tspan dy="-6.8" font-size="9.8">-2</tspan><tspan dy="6.8" dx="1.0">)</tspan></text>
<polygon points="314.30,13.36 317.00,16.20 314.30,19.04 311.60,16.20" fill="#7986b8"/>
<text x="330.3" y="20.1" font-size="11.2" text-anchor="start">600 <tspan dx="1.0" dy="-5.4" font-size="7.0">o</tspan><tspan dy="5.4">C</tspan></text>
<polygon points="376.10,19.02 378.73,14.40 373.48,14.40" fill="#f3bdb7"/>
<text x="392" y="20.1" font-size="11.2" text-anchor="start">550 <tspan dx="1.0" dy="-5.4" font-size="7.0">o</tspan><tspan dy="5.4">C</tspan></text>
<polygon points="314.30,28.88 316.93,33.50 311.68,33.50" fill="#f8a23a"/>
<text x="330.3" y="35.45" font-size="11.2" text-anchor="start">500 <tspan dx="1.0" dy="-5.4" font-size="7.0">o</tspan><tspan dy="5.4">C</tspan></text>
<circle cx="376.10" cy="31.60" r="1.99" fill="#5d9162"/>
<text x="392" y="35.45" font-size="11.2" text-anchor="start">450 <tspan dx="1.0" dy="-5.4" font-size="7.0">o</tspan><tspan dy="5.4">C</tspan></text>
<rect x="342.96" y="44.86" width="3.87" height="3.87" fill="#a85de3"/>
<text x="361" y="50.8" font-size="11.2" text-anchor="start">400 <tspan dx="1.0" dy="-5.4" font-size="7.0">o</tspan><tspan dy="5.4">C</tspan></text>
<text x="362" y="139.9" font-size="11" text-anchor="start">NAUP-PNC73</text>
<clipPath id="c3"><rect x="506.65" y="2.60" width="169.90" height="144.45"/></clipPath>
<g clip-path="url(#c3)">
<rect x="511.73" y="28.90" width="2.66" height="2.66" fill="#fff" stroke="#bfcdea" stroke-width="1.05"/>
<rect x="516.60" y="31.42" width="2.66" height="2.66" fill="#fff" stroke="#bfcdea" stroke-width="1.05"/>
<rect x="521.57" y="33.76" width="2.66" height="2.66" fill="#fff" stroke="#bfcdea" stroke-width="1.05"/>
<rect x="526.64" y="35.85" width="2.66" height="2.66" fill="#fff" stroke="#bfcdea" stroke-width="1.05"/>
<rect x="531.80" y="37.71" width="2.66" height="2.66" fill="#fff" stroke="#bfcdea" stroke-width="1.05"/>
<rect x="536.84" y="39.86" width="2.66" height="2.66" fill="#fff" stroke="#bfcdea" stroke-width="1.05"/>
<rect x="541.74" y="42.33" width="2.66" height="2.66" fill="#fff" stroke="#bfcdea" stroke-width="1.05"/>
<rect x="546.66" y="44.77" width="2.66" height="2.66" fill="#fff" stroke="#bfcdea" stroke-width="1.05"/>
<rect x="551.60" y="47.14" width="2.66" height="2.66" fill="#fff" stroke="#bfcdea" stroke-width="1.05"/>
<rect x="556.54" y="49.54" width="2.66" height="2.66" fill="#fff" stroke="#bfcdea" stroke-width="1.05"/>
<rect x="561.46" y="51.96" width="2.66" height="2.66" fill="#fff" stroke="#bfcdea" stroke-width="1.05"/>
<rect x="566.31" y="54.52" width="2.66" height="2.66" fill="#fff" stroke="#bfcdea" stroke-width="1.05"/>
<rect x="571.07" y="57.25" width="2.66" height="2.66" fill="#fff" stroke="#bfcdea" stroke-width="1.05"/>
<rect x="575.79" y="60.04" width="2.66" height="2.66" fill="#fff" stroke="#bfcdea" stroke-width="1.05"/>
<rect x="580.50" y="62.86" width="2.66" height="2.66" fill="#fff" stroke="#bfcdea" stroke-width="1.05"/>
<rect x="585.23" y="65.64" width="2.66" height="2.66" fill="#fff" stroke="#bfcdea" stroke-width="1.05"/>
<rect x="590.00" y="68.34" width="2.66" height="2.66" fill="#fff" stroke="#bfcdea" stroke-width="1.05"/>
<rect x="594.81" y="70.98" width="2.66" height="2.66" fill="#fff" stroke="#bfcdea" stroke-width="1.05"/>
<rect x="599.69" y="73.48" width="2.66" height="2.66" fill="#fff" stroke="#bfcdea" stroke-width="1.05"/>
<rect x="604.53" y="76.07" width="2.66" height="2.66" fill="#fff" stroke="#bfcdea" stroke-width="1.05"/>
<rect x="609.13" y="79.05" width="2.66" height="2.66" fill="#fff" stroke="#bfcdea" stroke-width="1.05"/>
<rect x="613.66" y="82.15" width="2.66" height="2.66" fill="#fff" stroke="#bfcdea" stroke-width="1.05"/>
<rect x="618.17" y="85.28" width="2.66" height="2.66" fill="#fff" stroke="#bfcdea" stroke-width="1.05"/>
<rect x="622.76" y="88.28" width="2.66" height="2.66" fill="#fff" stroke="#bfcdea" stroke-width="1.05"/>
<rect x="627.37" y="91.25" width="2.66" height="2.66" fill="#fff" stroke="#bfcdea" stroke-width="1.05"/>
<rect x="631.88" y="94.38" width="2.66" height="2.66" fill="#fff" stroke="#bfcdea" stroke-width="1.05"/>
<rect x="636.35" y="97.56" width="2.66" height="2.66" fill="#fff" stroke="#bfcdea" stroke-width="1.05"/>
<rect x="640.86" y="100.69" width="2.66" height="2.66" fill="#fff" stroke="#bfcdea" stroke-width="1.05"/>
<rect x="645.38" y="103.79" width="2.66" height="2.66" fill="#fff" stroke="#bfcdea" stroke-width="1.05"/>
<rect x="649.88" y="106.94" width="2.66" height="2.66" fill="#fff" stroke="#bfcdea" stroke-width="1.05"/>
<rect x="654.32" y="110.15" width="2.66" height="2.66" fill="#fff" stroke="#bfcdea" stroke-width="1.05"/>
<rect x="658.72" y="113.44" width="2.66" height="2.66" fill="#fff" stroke="#bfcdea" stroke-width="1.05"/>
<rect x="663.05" y="116.80" width="2.66" height="2.66" fill="#fff" stroke="#bfcdea" stroke-width="1.05"/>
<rect x="667.30" y="120.27" width="2.66" height="2.66" fill="#fff" stroke="#bfcdea" stroke-width="1.05"/>
<rect x="671.48" y="123.82" width="2.66" height="2.66" fill="#fff" stroke="#bfcdea" stroke-width="1.05"/>
<rect x="674.98" y="128.03" width="2.66" height="2.66" fill="#fff" stroke="#bfcdea" stroke-width="1.05"/>
<circle cx="552.09" cy="30.41" r="1.69" fill="#fff" stroke="#7683b0" stroke-width="1.05"/>
<circle cx="556.02" cy="33.06" r="1.69" fill="#fff" stroke="#7683b0" stroke-width="1.05"/>
<circle cx="560.04" cy="35.58" r="1.69" fill="#fff" stroke="#7683b0" stroke-width="1.05"/>
<circle cx="564.14" cy="37.97" r="1.69" fill="#fff" stroke="#7683b0" stroke-width="1.05"/>
<circle cx="568.32" cy="40.22" r="1.69" fill="#fff" stroke="#7683b0" stroke-width="1.05"/>
<circle cx="572.58" cy="42.30" r="1.69" fill="#fff" stroke="#7683b0" stroke-width="1.05"/>
<circle cx="576.94" cy="44.17" r="1.69" fill="#fff" stroke="#7683b0" stroke-width="1.05"/>
<circle cx="581.30" cy="46.06" r="1.69" fill="#fff" stroke="#7683b0" stroke-width="1.05"/>
<circle cx="585.65" cy="47.95" r="1.69" fill="#fff" stroke="#7683b0" stroke-width="1.05"/>
<circle cx="589.91" cy="50.03" r="1.69" fill="#fff" stroke="#7683b0" stroke-width="1.05"/>
<circle cx="594.09" cy="52.27" r="1.69" fill="#fff" stroke="#7683b0" stroke-width="1.05"/>
<circle cx="598.32" cy="54.43" r="1.69" fill="#fff" stroke="#7683b0" stroke-width="1.05"/>
<circle cx="602.58" cy="56.53" r="1.69" fill="#fff" stroke="#7683b0" stroke-width="1.05"/>
<circle cx="606.76" cy="58.76" r="1.69" fill="#fff" stroke="#7683b0" stroke-width="1.05"/>
<circle cx="610.85" cy="61.17" r="1.69" fill="#fff" stroke="#7683b0" stroke-width="1.05"/>
<circle cx="614.59" cy="64.07" r="1.69" fill="#fff" stroke="#7683b0" stroke-width="1.05"/>
<circle cx="618.09" cy="67.27" r="1.69" fill="#fff" stroke="#7683b0" stroke-width="1.05"/>
<circle cx="621.88" cy="70.13" r="1.69" fill="#fff" stroke="#7683b0" stroke-width="1.05"/>
<circle cx="625.81" cy="72.80" r="1.69" fill="#fff" stroke="#7683b0" stroke-width="1.05"/>
<circle cx="629.62" cy="75.61" r="1.69" fill="#fff" stroke="#7683b0" stroke-width="1.05"/>
<circle cx="633.18" cy="78.75" r="1.69" fill="#fff" stroke="#7683b0" stroke-width="1.05"/>
<circle cx="636.69" cy="81.94" r="1.69" fill="#fff" stroke="#7683b0" stroke-width="1.05"/>
<circle cx="640.37" cy="84.93" r="1.69" fill="#fff" stroke="#7683b0" stroke-width="1.05"/>
<circle cx="644.08" cy="87.90" r="1.69" fill="#fff" stroke="#7683b0" stroke-width="1.05"/>
<circle cx="647.62" cy="91.05" r="1.69" fill="#fff" stroke="#7683b0" stroke-width="1.05"/>
<circle cx="651.09" cy="94.29" r="1.69" fill="#fff" stroke="#7683b0" stroke-width="1.05"/>
<circle cx="654.53" cy="97.56" r="1.69" fill="#fff" stroke="#7683b0" stroke-width="1.05"/>
<circle cx="657.90" cy="100.90" r="1.69" fill="#fff" stroke="#7683b0" stroke-width="1.05"/>
<circle cx="661.19" cy="104.32" r="1.69" fill="#fff" stroke="#7683b0" stroke-width="1.05"/>
<circle cx="664.36" cy="107.85" r="1.69" fill="#fff" stroke="#7683b0" stroke-width="1.05"/>
<circle cx="667.31" cy="111.57" r="1.69" fill="#fff" stroke="#7683b0" stroke-width="1.05"/>
<circle cx="669.98" cy="115.48" r="1.69" fill="#fff" stroke="#7683b0" stroke-width="1.05"/>
<circle cx="672.42" cy="119.55" r="1.69" fill="#fff" stroke="#7683b0" stroke-width="1.05"/>
<circle cx="674.63" cy="123.75" r="1.69" fill="#fff" stroke="#7683b0" stroke-width="1.05"/>
<circle cx="676.55" cy="128.09" r="1.69" fill="#fff" stroke="#7683b0" stroke-width="1.05"/>
<polygon points="601.70,26.50 603.98,30.52 599.41,30.52" fill="#fff" stroke="#5767a7" stroke-width="1.05"/>
<polygon points="605.78,29.33 608.07,33.35 603.50,33.35" fill="#fff" stroke="#5767a7" stroke-width="1.05"/>
<polygon points="609.56,32.57 611.84,36.59 607.27,36.59" fill="#fff" stroke="#5767a7" stroke-width="1.05"/>
<polygon points="613.06,36.10 615.34,40.13 610.77,40.13" fill="#fff" stroke="#5767a7" stroke-width="1.05"/>
<polygon points="616.21,39.95 618.50,43.97 613.93,43.97" fill="#fff" stroke="#5767a7" stroke-width="1.05"/>
<polygon points="619.47,43.71 621.76,47.73 617.19,47.73" fill="#fff" stroke="#5767a7" stroke-width="1.05"/>
<polygon points="622.86,47.36 625.14,51.38 620.57,51.38" fill="#fff" stroke="#5767a7" stroke-width="1.05"/>
<polygon points="626.14,51.10 628.43,55.12 623.86,55.12" fill="#fff" stroke="#5767a7" stroke-width="1.05"/>
<polygon points="629.31,54.93 631.59,58.96 627.03,58.96" fill="#fff" stroke="#5767a7" stroke-width="1.05"/>
<polygon points="632.23,58.96 634.52,62.98 629.95,62.98" fill="#fff" stroke="#5767a7" stroke-width="1.05"/>
<polygon points="634.81,63.21 637.09,67.24 632.53,67.24" fill="#fff" stroke="#5767a7" stroke-width="1.05"/>
<polygon points="637.37,67.48 639.65,71.51 635.08,71.51" fill="#fff" stroke="#5767a7" stroke-width="1.05"/>
<polygon points="640.11,71.63 642.40,75.66 637.83,75.66" fill="#fff" stroke="#5767a7" stroke-width="1.05"/>
<polygon points="642.97,75.71 645.25,79.73 640.69,79.73" fill="#fff" stroke="#5767a7" stroke-width="1.05"/>
<polygon points="645.99,79.66 648.27,83.69 643.70,83.69" fill="#fff" stroke="#5767a7" stroke-width="1.05"/>
<polygon points="649.04,83.59 651.32,87.62 646.76,87.62" fill="#fff" stroke="#5767a7" stroke-width="1.05"/>
<polygon points="651.84,87.70 654.13,91.73 649.56,91.73" fill="#fff" stroke="#5767a7" stroke-width="1.05"/>
<polygon points="654.65,91.81 656.94,95.83 652.37,95.83" fill="#fff" stroke="#5767a7" stroke-width="1.05"/>
<polygon points="657.76,95.70 660.04,99.72 655.48,99.72" fill="#fff" stroke="#5767a7" stroke-width="1.05"/>
<polygon points="660.70,99.71 662.98,103.74 658.41,103.74" fill="#fff" stroke="#5767a7" stroke-width="1.05"/>
<polygon points="663.52,103.81 665.80,107.83 661.24,107.83" fill="#fff" stroke="#5767a7" stroke-width="1.05"/>
<polygon points="666.33,107.92 668.61,111.94 664.05,111.94" fill="#fff" stroke="#5767a7" stroke-width="1.05"/>
<polygon points="669.26,111.94 671.55,115.96 666.98,115.96" fill="#fff" stroke="#5767a7" stroke-width="1.05"/>
<polygon points="672.13,116.00 674.42,120.02 669.85,120.02" fill="#fff" stroke="#5767a7" stroke-width="1.05"/>
<polygon points="674.53,120.35 676.82,124.38 672.25,124.38" fill="#fff" stroke="#5767a7" stroke-width="1.05"/>
<polygon points="676.55,124.90 678.83,128.93 674.27,128.93" fill="#fff" stroke="#5767a7" stroke-width="1.05"/>
<polygon points="622.23,31.07 624.51,27.04 619.95,27.04" fill="#fff" stroke="#313f88" stroke-width="1.05"/>
<polygon points="624.59,34.90 626.87,30.87 622.31,30.87" fill="#fff" stroke="#313f88" stroke-width="1.05"/>
<polygon points="626.93,38.74 629.22,34.72 624.65,34.72" fill="#fff" stroke="#313f88" stroke-width="1.05"/>
<polygon points="629.28,42.58 631.56,38.56 626.99,38.56" fill="#fff" stroke="#313f88" stroke-width="1.05"/>
<polygon points="631.60,46.44 633.88,42.41 629.31,42.41" fill="#fff" stroke="#313f88" stroke-width="1.05"/>
<polygon points="633.77,50.38 636.06,46.35 631.49,46.35" fill="#fff" stroke="#313f88" stroke-width="1.05"/>
<polygon points="635.80,54.39 638.09,50.37 633.52,50.37" fill="#fff" stroke="#313f88" stroke-width="1.05"/>
<polygon points="638.02,58.30 640.30,54.28 635.74,54.28" fill="#fff" stroke="#313f88" stroke-width="1.05"/>
<polygon points="640.61,61.99 642.89,57.96 638.32,57.96" fill="#fff" stroke="#313f88" stroke-width="1.05"/>
<polygon points="643.12,65.72 645.40,61.69 640.84,61.69" fill="#fff" stroke="#313f88" stroke-width="1.05"/>
<polygon points="645.29,69.66 647.58,65.63 643.01,65.63" fill="#fff" stroke="#313f88" stroke-width="1.05"/>
<polygon points="647.40,73.63 649.68,69.61 645.12,69.61" fill="#fff" stroke="#313f88" stroke-width="1.05"/>
<polygon points="649.58,77.57 651.86,73.55 647.29,73.55" fill="#fff" stroke="#313f88" stroke-width="1.05"/>
<polygon points="651.77,81.50 654.05,77.48 649.48,77.48" fill="#fff" stroke="#313f88" stroke-width="1.05"/>
<polygon points="653.94,85.44 656.22,81.42 651.66,81.42" fill="#fff" stroke="#313f88" stroke-width="1.05"/>
<polygon points="656.07,89.41 658.35,85.38 653.79,85.38" fill="#fff" stroke="#313f88" stroke-width="1.05"/>
<polygon points="658.17,93.39 660.45,89.36 655.89,89.36" fill="#fff" stroke="#313f88" stroke-width="1.05"/>
<polygon points="660.25,97.38 662.53,93.36 657.96,93.36" fill="#fff" stroke="#313f88" stroke-width="1.05"/>
<polygon points="662.30,101.38 664.59,97.36 660.02,97.36" fill="#fff" stroke="#313f88" stroke-width="1.05"/>
<polygon points="664.34,105.40 666.62,101.37 662.05,101.37" fill="#fff" stroke="#313f88" stroke-width="1.05"/>
<polygon points="666.32,109.44 668.61,105.41 664.04,105.41" fill="#fff" stroke="#313f88" stroke-width="1.05"/>
<polygon points="668.27,113.49 670.55,109.47 665.99,109.47" fill="#fff" stroke="#313f88" stroke-width="1.05"/>
<polygon points="670.24,117.54 672.52,113.52 667.95,113.52" fill="#fff" stroke="#313f88" stroke-width="1.05"/>
<polygon points="672.27,121.55 674.55,117.53 669.99,117.53" fill="#fff" stroke="#313f88" stroke-width="1.05"/>
<polygon points="674.38,125.53 676.66,121.51 672.10,121.51" fill="#fff" stroke="#313f88" stroke-width="1.05"/>
<polygon points="676.55,129.47 678.83,125.45 674.27,125.45" fill="#fff" stroke="#313f88" stroke-width="1.05"/>
<polygon points="652.28,26.50 654.45,28.78 652.28,31.07 650.10,28.78" fill="#fff" stroke="#1e2454" stroke-width="1.05"/>
<polygon points="653.67,30.69 655.84,32.97 653.67,35.25 651.49,32.97" fill="#fff" stroke="#1e2454" stroke-width="1.05"/>
<polygon points="654.88,34.93 657.06,37.21 654.88,39.49 652.71,37.21" fill="#fff" stroke="#1e2454" stroke-width="1.05"/>
<polygon points="655.97,39.20 658.15,41.49 655.97,43.77 653.80,41.49" fill="#fff" stroke="#1e2454" stroke-width="1.05"/>
<polygon points="656.88,43.52 659.06,45.80 656.88,48.09 654.71,45.80" fill="#fff" stroke="#1e2454" stroke-width="1.05"/>
<polygon points="657.58,47.88 659.75,50.16 657.58,52.44 655.40,50.16" fill="#fff" stroke="#1e2454" stroke-width="1.05"/>
<polygon points="658.29,52.23 660.47,54.51 658.29,56.80 656.12,54.51" fill="#fff" stroke="#1e2454" stroke-width="1.05"/>
<polygon points="659.27,56.53 661.45,58.82 659.27,61.10 657.10,58.82" fill="#fff" stroke="#1e2454" stroke-width="1.05"/>
<polygon points="660.46,60.78 662.64,63.06 660.46,65.35 658.29,63.06" fill="#fff" stroke="#1e2454" stroke-width="1.05"/>
<polygon points="661.71,65.01 663.89,67.30 661.71,69.58 659.54,67.30" fill="#fff" stroke="#1e2454" stroke-width="1.05"/>
<polygon points="662.81,69.28 664.99,71.57 662.81,73.85 660.64,71.57" fill="#fff" stroke="#1e2454" stroke-width="1.05"/>
<polygon points="663.83,73.58 666.01,75.86 663.83,78.14 661.66,75.86" fill="#fff" stroke="#1e2454" stroke-width="1.05"/>
<polygon points="664.84,77.87 667.01,80.16 664.84,82.44 662.66,80.16" fill="#fff" stroke="#1e2454" stroke-width="1.05"/>
<polygon points="665.89,82.16 668.06,84.44 665.89,86.73 663.71,84.44" fill="#fff" stroke="#1e2454" stroke-width="1.05"/>
<polygon points="666.95,86.44 669.12,88.73 666.95,91.01 664.77,88.73" fill="#fff" stroke="#1e2454" stroke-width="1.05"/>
<polygon points="668.06,90.71 670.23,93.00 668.06,95.28 665.88,93.00" fill="#fff" stroke="#1e2454" stroke-width="1.05"/>
<polygon points="669.32,94.94 671.50,97.22 669.32,99.51 667.15,97.22" fill="#fff" stroke="#1e2454" stroke-width="1.05"/>
<polygon points="670.79,99.10 672.97,101.38 670.79,103.67 668.62,101.38" fill="#fff" stroke="#1e2454" stroke-width="1.05"/>
<polygon points="671.99,103.34 674.16,105.63 671.99,107.91 669.81,105.63" fill="#fff" stroke="#1e2454" stroke-width="1.05"/>
<polygon points="672.92,107.66 675.09,109.94 672.92,112.22 670.74,109.94" fill="#fff" stroke="#1e2454" stroke-width="1.05"/>
<polygon points="673.80,111.98 675.97,114.26 673.80,116.55 671.62,114.26" fill="#fff" stroke="#1e2454" stroke-width="1.05"/>
<polygon points="674.57,116.32 676.75,118.61 674.57,120.89 672.40,118.61" fill="#fff" stroke="#1e2454" stroke-width="1.05"/>
<polygon points="675.36,120.67 677.53,122.95 675.36,125.23 673.18,122.95" fill="#fff" stroke="#1e2454" stroke-width="1.05"/>
<polygon points="676.55,124.90 678.72,127.19 676.55,129.47 674.38,127.19" fill="#fff" stroke="#1e2454" stroke-width="1.05"/>
</g>
<path d="M506.65 2.60H676.55V147.05H506.65Z" fill="none" stroke="#0a0a0a" stroke-width="1"/>
<path d="M530.92 147.05v-2.2M579.46 147.05v-2.2M628.01 147.05v-2.2M676.55 147.05v-2.2M506.65 147.05v-1.4M555.19 147.05v-1.4M603.74 147.05v-1.4M652.28 147.05v-1.4M506.65 138.02h2.2M506.65 119.97h2.2M506.65 101.91h2.2M506.65 83.85h2.2M506.65 65.80h2.2M506.65 47.74h2.2M506.65 29.68h2.2M506.65 11.63h2.2M506.65 147.05h1.4M506.65 128.99h1.4M506.65 110.94h1.4M506.65 92.88h1.4M506.65 74.82h1.4M506.65 56.77h1.4M506.65 38.71h1.4M506.65 20.66h1.4M506.65 2.60h1.4" stroke="#0a0a0a" stroke-width="1"/>
<text transform="translate(530.92 159.05) scale(1.06 1)" font-size="10.1" text-anchor="middle">-3.0</text>
<text transform="translate(579.46 159.05) scale(1.06 1)" font-size="10.1" text-anchor="middle">-2.0</text>
<text transform="translate(628.01 159.05) scale(1.06 1)" font-size="10.1" text-anchor="middle">-1.0</text>
<text transform="translate(676.55 159.05) scale(1.06 1)" font-size="10.1" text-anchor="middle">0.0</text>
<text transform="translate(504.15 141.82) scale(1.06 1)" font-size="10.1" text-anchor="end">1.0</text>
<text transform="translate(504.15 123.77) scale(1.06 1)" font-size="10.1" text-anchor="end">1.1</text>
<text transform="translate(504.15 105.71) scale(1.06 1)" font-size="10.1" text-anchor="end">1.2</text>
<text transform="translate(504.15 87.65) scale(1.06 1)" font-size="10.1" text-anchor="end">1.3</text>
<text transform="translate(504.15 69.6) scale(1.06 1)" font-size="10.1" text-anchor="end">1.4</text>
<text transform="translate(504.15 51.54) scale(1.06 1)" font-size="10.1" text-anchor="end">1.5</text>
<text transform="translate(504.15 33.48) scale(1.06 1)" font-size="10.1" text-anchor="end">1.6</text>
<text transform="translate(504.15 15.43) scale(1.06 1)" font-size="10.1" text-anchor="end">1.7</text>
<text x="477" y="16.8" font-size="14.5" text-anchor="start" font-weight="bold">c</text>
<text transform="translate(485.3 83.8) rotate(-90)" font-size="13.0" text-anchor="middle">Voltage (V)</text>
<text x="522" y="171.4" font-size="13.0">Current density (A cm<tspan dy="-6.8" font-size="9.8">-2</tspan><tspan dy="6.8" dx="1.0">)</tspan></text>
<text x="513" y="16" font-size="11.4" text-anchor="start">20 vol.% H<tspan dy="3.2" font-size="8.5">2</tspan><tspan dy="-3.2">O</tspan> (40 sccm)</text>
<rect x="520.11" y="69.11" width="2.79" height="2.79" fill="#fff" stroke="#bfcdea" stroke-width="1.0"/>
<text x="537.3" y="74.5" font-size="11.2" text-anchor="start">600 <tspan dx="1.0" dy="-5.4" font-size="7.0">o</tspan><tspan dy="5.4">C</tspan></text>
<circle cx="521.50" cy="86.30" r="1.57" fill="#fff" stroke="#7683b0" stroke-width="1.0"/>
<text x="537.3" y="90.3" font-size="11.2" text-anchor="start">550 <tspan dx="1.0" dy="-5.4" font-size="7.0">o</tspan><tspan dy="5.4">C</tspan></text>
<polygon points="521.50,99.75 523.55,103.36 519.45,103.36" fill="#fff" stroke="#5767a7" stroke-width="1.0"/>
<text x="537.3" y="105.8" font-size="11.2" text-anchor="start">500 <tspan dx="1.0" dy="-5.4" font-size="7.0">o</tspan><tspan dy="5.4">C</tspan></text>
<polygon points="521.50,120.45 523.55,116.84 519.45,116.84" fill="#fff" stroke="#313f88" stroke-width="1.0"/>
<text x="537.3" y="122.4" font-size="11.2" text-anchor="start">450 <tspan dx="1.0" dy="-5.4" font-size="7.0">o</tspan><tspan dy="5.4">C</tspan></text>
<polygon points="521.50,131.75 523.55,133.90 521.50,136.05 519.45,133.90" fill="#fff" stroke="#1e2454" stroke-width="1.0"/>
<text x="537.3" y="137.9" font-size="11.2" text-anchor="start">400 <tspan dx="1.0" dy="-5.4" font-size="7.0">o</tspan><tspan dy="5.4">C</tspan></text>
<text x="618.6" y="124.8" font-size="11" text-anchor="middle">Powder-packed</text>
<text x="620.4" y="137.8" font-size="11" text-anchor="middle">PNC73</text>
<clipPath id="c4"><rect x="32.65" y="177.80" width="166.80" height="141.80"/></clipPath>
<g clip-path="url(#c4)">
<rect x="44.50" y="203.12" width="3.60" height="3.60" fill="#bfcdea"/>
<rect x="51.49" y="204.93" width="3.60" height="3.60" fill="#bfcdea"/>
<rect x="58.34" y="206.86" width="3.60" height="3.60" fill="#bfcdea"/>
<rect x="65.08" y="208.90" width="3.60" height="3.60" fill="#bfcdea"/>
<rect x="71.70" y="211.03" width="3.60" height="3.60" fill="#bfcdea"/>
<rect x="78.23" y="213.22" width="3.60" height="3.60" fill="#bfcdea"/>
<rect x="84.67" y="215.49" width="3.60" height="3.60" fill="#bfcdea"/>
<rect x="90.97" y="217.85" width="3.60" height="3.60" fill="#bfcdea"/>
<rect x="97.13" y="220.30" width="3.60" height="3.60" fill="#bfcdea"/>
<rect x="103.15" y="222.84" width="3.60" height="3.60" fill="#bfcdea"/>
<rect x="109.02" y="225.46" width="3.60" height="3.60" fill="#bfcdea"/>
<rect x="114.66" y="228.20" width="3.60" height="3.60" fill="#bfcdea"/>
<rect x="119.99" y="231.10" width="3.60" height="3.60" fill="#bfcdea"/>
<rect x="125.32" y="233.99" width="3.60" height="3.60" fill="#bfcdea"/>
<rect x="130.80" y="236.82" width="3.60" height="3.60" fill="#bfcdea"/>
<rect x="136.15" y="239.71" width="3.60" height="3.60" fill="#bfcdea"/>
<rect x="141.03" y="242.79" width="3.60" height="3.60" fill="#bfcdea"/>
<rect x="145.42" y="246.06" width="3.60" height="3.60" fill="#bfcdea"/>
<rect x="149.88" y="249.30" width="3.60" height="3.60" fill="#bfcdea"/>
<rect x="154.42" y="252.52" width="3.60" height="3.60" fill="#bfcdea"/>
<rect x="159.33" y="255.59" width="3.60" height="3.60" fill="#bfcdea"/>
<rect x="163.56" y="258.90" width="3.60" height="3.60" fill="#bfcdea"/>
<rect x="167.10" y="262.42" width="3.60" height="3.60" fill="#bfcdea"/>
<rect x="170.53" y="265.96" width="3.60" height="3.60" fill="#bfcdea"/>
<rect x="174.24" y="269.43" width="3.60" height="3.60" fill="#bfcdea"/>
<rect x="177.79" y="272.95" width="3.60" height="3.60" fill="#bfcdea"/>
<rect x="180.40" y="276.66" width="3.60" height="3.60" fill="#bfcdea"/>
<rect x="182.65" y="280.43" width="3.60" height="3.60" fill="#bfcdea"/>
<rect x="185.26" y="284.14" width="3.60" height="3.60" fill="#bfcdea"/>
<rect x="187.81" y="287.86" width="3.60" height="3.60" fill="#bfcdea"/>
<rect x="190.24" y="291.61" width="3.60" height="3.60" fill="#bfcdea"/>
<rect x="192.33" y="295.40" width="3.60" height="3.60" fill="#bfcdea"/>
<rect x="193.92" y="299.25" width="3.60" height="3.60" fill="#bfcdea"/>
<rect x="195.44" y="303.12" width="3.60" height="3.60" fill="#bfcdea"/>
<rect x="196.86" y="306.99" width="3.60" height="3.60" fill="#bfcdea"/>
<circle cx="82.42" cy="204.21" r="2.18" fill="#7683b0"/>
<circle cx="88.50" cy="206.58" r="2.18" fill="#7683b0"/>
<circle cx="94.55" cy="208.97" r="2.18" fill="#7683b0"/>
<circle cx="100.59" cy="211.37" r="2.18" fill="#7683b0"/>
<circle cx="106.55" cy="213.82" r="2.18" fill="#7683b0"/>
<circle cx="112.33" cy="216.37" r="2.18" fill="#7683b0"/>
<circle cx="118.03" cy="218.97" r="2.18" fill="#7683b0"/>
<circle cx="123.72" cy="221.57" r="2.18" fill="#7683b0"/>
<circle cx="129.38" cy="224.18" r="2.18" fill="#7683b0"/>
<circle cx="134.90" cy="226.87" r="2.18" fill="#7683b0"/>
<circle cx="139.55" cy="229.95" r="2.18" fill="#7683b0"/>
<circle cx="144.08" cy="233.06" r="2.18" fill="#7683b0"/>
<circle cx="148.76" cy="236.13" r="2.18" fill="#7683b0"/>
<circle cx="153.23" cy="239.27" r="2.18" fill="#7683b0"/>
<circle cx="157.43" cy="242.50" r="2.18" fill="#7683b0"/>
<circle cx="161.44" cy="245.80" r="2.18" fill="#7683b0"/>
<circle cx="165.29" cy="249.14" r="2.18" fill="#7683b0"/>
<circle cx="168.55" cy="252.63" r="2.18" fill="#7683b0"/>
<circle cx="171.60" cy="256.16" r="2.18" fill="#7683b0"/>
<circle cx="175.16" cy="259.57" r="2.18" fill="#7683b0"/>
<circle cx="178.00" cy="263.15" r="2.18" fill="#7683b0"/>
<circle cx="181.00" cy="266.70" r="2.18" fill="#7683b0"/>
<circle cx="183.15" cy="270.40" r="2.18" fill="#7683b0"/>
<circle cx="185.25" cy="274.11" r="2.18" fill="#7683b0"/>
<circle cx="187.50" cy="277.80" r="2.18" fill="#7683b0"/>
<circle cx="189.54" cy="281.52" r="2.18" fill="#7683b0"/>
<circle cx="191.26" cy="285.27" r="2.18" fill="#7683b0"/>
<circle cx="192.85" cy="289.05" r="2.18" fill="#7683b0"/>
<circle cx="194.40" cy="292.82" r="2.18" fill="#7683b0"/>
<circle cx="195.85" cy="296.61" r="2.18" fill="#7683b0"/>
<circle cx="197.02" cy="300.42" r="2.18" fill="#7683b0"/>
<circle cx="197.98" cy="304.25" r="2.18" fill="#7683b0"/>
<circle cx="198.84" cy="308.08" r="2.18" fill="#7683b0"/>
<polygon points="123.42,200.84 126.25,205.84 120.58,205.84" fill="#5767a7"/>
<polygon points="129.35,203.39 132.18,208.39 126.51,208.39" fill="#5767a7"/>
<polygon points="135.38,205.88 138.21,210.87 132.54,210.87" fill="#5767a7"/>
<polygon points="140.98,208.59 143.82,213.59 138.15,213.59" fill="#5767a7"/>
<polygon points="145.45,211.80 148.29,216.79 142.62,216.79" fill="#5767a7"/>
<polygon points="149.67,215.09 152.51,220.08 146.84,220.08" fill="#5767a7"/>
<polygon points="153.73,218.43 156.56,223.42 150.89,223.42" fill="#5767a7"/>
<polygon points="158.01,221.70 160.84,226.69 155.17,226.69" fill="#5767a7"/>
<polygon points="162.65,224.84 165.48,229.84 159.81,229.84" fill="#5767a7"/>
<polygon points="166.71,228.18 169.54,233.18 163.87,233.18" fill="#5767a7"/>
<polygon points="170.28,231.66 173.12,236.65 167.45,236.65" fill="#5767a7"/>
<polygon points="173.19,235.28 176.02,240.28 170.35,240.28" fill="#5767a7"/>
<polygon points="175.24,239.05 178.08,244.05 172.41,244.05" fill="#5767a7"/>
<polygon points="176.91,242.87 179.75,247.86 174.08,247.86" fill="#5767a7"/>
<polygon points="178.67,246.68 181.51,251.67 175.84,251.67" fill="#5767a7"/>
<polygon points="180.45,250.48 183.28,255.48 177.61,255.48" fill="#5767a7"/>
<polygon points="182.18,254.30 185.01,259.29 179.34,259.29" fill="#5767a7"/>
<polygon points="183.85,258.11 186.69,263.11 181.02,263.11" fill="#5767a7"/>
<polygon points="185.45,261.94 188.29,266.93 182.62,266.93" fill="#5767a7"/>
<polygon points="186.97,265.77 189.80,270.77 184.13,270.77" fill="#5767a7"/>
<polygon points="188.52,269.60 191.36,274.60 185.69,274.60" fill="#5767a7"/>
<polygon points="190.15,273.43 192.98,278.42 187.31,278.42" fill="#5767a7"/>
<polygon points="191.68,277.26 194.51,282.26 188.84,282.26" fill="#5767a7"/>
<polygon points="193.02,281.11 195.86,286.11 190.19,286.11" fill="#5767a7"/>
<polygon points="194.21,284.97 197.04,289.97 191.37,289.97" fill="#5767a7"/>
<polygon points="195.33,288.84 198.17,293.84 192.50,293.84" fill="#5767a7"/>
<polygon points="196.44,292.71 199.27,297.71 193.60,297.71" fill="#5767a7"/>
<polygon points="197.46,296.59 200.30,301.58 194.63,301.58" fill="#5767a7"/>
<polygon points="198.35,300.47 201.19,305.46 195.52,305.46" fill="#5767a7"/>
<polygon points="199.15,304.36 201.98,309.35 196.31,309.35" fill="#5767a7"/>
<polygon points="152.96,206.94 155.69,202.13 150.23,202.13" fill="#313f88"/>
<polygon points="156.09,210.59 158.82,205.78 153.36,205.78" fill="#313f88"/>
<polygon points="159.49,214.18 162.22,209.37 156.76,209.37" fill="#313f88"/>
<polygon points="163.39,217.63 166.12,212.82 160.66,212.82" fill="#313f88"/>
<polygon points="167.26,221.10 169.99,216.29 164.53,216.29" fill="#313f88"/>
<polygon points="170.28,224.77 173.01,219.96 167.55,219.96" fill="#313f88"/>
<polygon points="173.69,228.35 176.42,223.54 170.96,223.54" fill="#313f88"/>
<polygon points="177.50,231.83 180.23,227.02 174.77,227.02" fill="#313f88"/>
<polygon points="179.62,235.65 182.35,230.84 176.89,230.84" fill="#313f88"/>
<polygon points="182.77,239.29 185.50,234.48 180.04,234.48" fill="#313f88"/>
<polygon points="185.76,242.97 188.49,238.16 183.03,238.16" fill="#313f88"/>
<polygon points="187.88,246.79 190.61,241.98 185.15,241.98" fill="#313f88"/>
<polygon points="189.74,250.65 192.47,245.84 187.01,245.84" fill="#313f88"/>
<polygon points="191.53,254.52 194.26,249.71 188.80,249.71" fill="#313f88"/>
<polygon points="192.93,258.43 195.66,253.62 190.20,253.62" fill="#313f88"/>
<polygon points="193.95,262.36 196.68,257.55 191.22,257.55" fill="#313f88"/>
<polygon points="194.74,266.32 197.47,261.51 192.01,261.51" fill="#313f88"/>
<polygon points="195.41,270.27 198.14,265.46 192.68,265.46" fill="#313f88"/>
<polygon points="195.93,274.23 198.66,269.42 193.20,269.42" fill="#313f88"/>
<polygon points="196.35,278.20 199.08,273.39 193.62,273.39" fill="#313f88"/>
<polygon points="196.73,282.16 199.46,277.35 194.00,277.35" fill="#313f88"/>
<polygon points="197.13,286.13 199.86,281.32 194.40,281.32" fill="#313f88"/>
<polygon points="197.51,290.09 200.24,285.28 194.78,285.28" fill="#313f88"/>
<polygon points="197.89,294.06 200.62,289.25 195.16,289.25" fill="#313f88"/>
<polygon points="198.27,298.03 201.00,293.22 195.54,293.22" fill="#313f88"/>
<polygon points="198.66,301.99 201.39,297.18 195.93,297.18" fill="#313f88"/>
<polygon points="199.05,305.96 201.78,301.15 196.32,301.15" fill="#313f88"/>
<polygon points="199.45,309.92 202.18,305.11 196.72,305.11" fill="#313f88"/>
<polygon points="179.49,200.92 182.29,203.86 179.49,206.80 176.69,203.86" fill="#1e2454"/>
<polygon points="183.13,205.99 185.93,208.93 183.13,211.87 180.33,208.93" fill="#1e2454"/>
<polygon points="186.02,211.18 188.82,214.12 186.02,217.06 183.22,214.12" fill="#1e2454"/>
<polygon points="188.31,216.45 191.11,219.39 188.31,222.33 185.51,219.39" fill="#1e2454"/>
<polygon points="190.07,221.77 192.87,224.71 190.07,227.65 187.27,224.71" fill="#1e2454"/>
<polygon points="190.94,227.14 193.74,230.08 190.94,233.02 188.14,230.08" fill="#1e2454"/>
<polygon points="191.80,232.51 194.60,235.45 191.80,238.39 189.00,235.45" fill="#1e2454"/>
<polygon points="192.68,237.89 195.48,240.83 192.68,243.77 189.88,240.83" fill="#1e2454"/>
<polygon points="193.61,243.26 196.41,246.20 193.61,249.14 190.81,246.20" fill="#1e2454"/>
<polygon points="194.46,248.63 197.26,251.57 194.46,254.51 191.66,251.57" fill="#1e2454"/>
<polygon points="195.09,254.01 197.89,256.95 195.09,259.89 192.29,256.95" fill="#1e2454"/>
<polygon points="195.63,259.40 198.43,262.34 195.63,265.28 192.83,262.34" fill="#1e2454"/>
<polygon points="196.10,264.78 198.90,267.72 196.10,270.66 193.30,267.72" fill="#1e2454"/>
<polygon points="196.54,270.17 199.34,273.11 196.54,276.05 193.74,273.11" fill="#1e2454"/>
<polygon points="196.97,275.56 199.77,278.50 196.97,281.44 194.17,278.50" fill="#1e2454"/>
<polygon points="197.36,280.94 200.16,283.88 197.36,286.82 194.56,283.88" fill="#1e2454"/>
<polygon points="197.76,286.33 200.56,289.27 197.76,292.21 194.96,289.27" fill="#1e2454"/>
<polygon points="198.25,291.71 201.05,294.65 198.25,297.59 195.45,294.65" fill="#1e2454"/>
<polygon points="198.80,297.10 201.60,300.04 198.80,302.98 196.00,300.04" fill="#1e2454"/>
<polygon points="199.45,302.48 202.25,305.42 199.45,308.36 196.65,305.42" fill="#1e2454"/>
</g>
<path d="M32.65 177.80H199.45V319.60H32.65Z" fill="none" stroke="#0a0a0a" stroke-width="1"/>
<path d="M47.81 319.60v-2.2M78.14 319.60v-2.2M108.47 319.60v-2.2M138.80 319.60v-2.2M169.12 319.60v-2.2M199.45 319.60v-2.2M32.65 319.60v-1.4M62.98 319.60v-1.4M93.30 319.60v-1.4M123.63 319.60v-1.4M153.96 319.60v-1.4M184.29 319.60v-1.4M32.65 310.74h2.2M32.65 293.01h2.2M32.65 275.29h2.2M32.65 257.56h2.2M32.65 239.84h2.2M32.65 222.11h2.2M32.65 204.39h2.2M32.65 186.66h2.2M32.65 319.60h1.4M32.65 301.88h1.4M32.65 284.15h1.4M32.65 266.43h1.4M32.65 248.70h1.4M32.65 230.98h1.4M32.65 213.25h1.4M32.65 195.53h1.4M32.65 177.80h1.4" stroke="#0a0a0a" stroke-width="1"/>
<text transform="translate(47.81 331.6) scale(1.06 1)" font-size="10.1" text-anchor="middle">-5.0</text>
<text transform="translate(78.14 331.6) scale(1.06 1)" font-size="10.1" text-anchor="middle">-4.0</text>
<text transform="translate(108.47 331.6) scale(1.06 1)" font-size="10.1" text-anchor="middle">-3.0</text>
<text transform="translate(138.8 331.6) scale(1.06 1)" font-size="10.1" text-anchor="middle">-2.0</text>
<text transform="translate(169.12 331.6) scale(1.06 1)" font-size="10.1" text-anchor="middle">-1.0</text>
<text transform="translate(199.45 331.6) scale(1.06 1)" font-size="10.1" text-anchor="middle">0.0</text>
<text transform="translate(30.15 314.54) scale(1.06 1)" font-size="10.1" text-anchor="end">1.0</text>
<text transform="translate(30.15 296.81) scale(1.06 1)" font-size="10.1" text-anchor="end">1.1</text>
<text transform="translate(30.15 279.09) scale(1.06 1)" font-size="10.1" text-anchor="end">1.2</text>
<text transform="translate(30.15 261.36) scale(1.06 1)" font-size="10.1" text-anchor="end">1.3</text>
<text transform="translate(30.15 243.64) scale(1.06 1)" font-size="10.1" text-anchor="end">1.4</text>
<text transform="translate(30.15 225.91) scale(1.06 1)" font-size="10.1" text-anchor="end">1.5</text>
<text transform="translate(30.15 208.19) scale(1.06 1)" font-size="10.1" text-anchor="end">1.6</text>
<text transform="translate(30.15 190.46) scale(1.06 1)" font-size="10.1" text-anchor="end">1.7</text>
<text x="4.5" y="192.6" font-size="14.5" text-anchor="start" font-weight="bold">d</text>
<text transform="translate(9.4 255.9) rotate(-90)" font-size="12.7" text-anchor="middle">Voltage (V)</text>
<text x="48.2" y="343.4" font-size="12.8">Current density (A cm<tspan dy="-6.8" font-size="9.8">-2</tspan><tspan dy="6.8" dx="1.0">)</tspan></text>
<text x="44.9" y="191.8" font-size="11.4" text-anchor="start">20 vol.% H<tspan dy="3.2" font-size="8.5">2</tspan><tspan dy="-3.2">O</tspan> (40 sccm)</text>
<rect x="46.09" y="237.89" width="3.42" height="3.42" fill="#bfcdea"/>
<text x="63.3" y="244.2" font-size="11.2" text-anchor="start">600 <tspan dx="1.0" dy="-5.4" font-size="7.0">o</tspan><tspan dy="5.4">C</tspan></text>
<circle cx="47.80" cy="255.20" r="2.09" fill="#7683b0"/>
<text x="63.3" y="259.8" font-size="11.2" text-anchor="start">550 <tspan dx="1.0" dy="-5.4" font-size="7.0">o</tspan><tspan dy="5.4">C</tspan></text>
<polygon points="47.80,267.68 50.32,272.12 45.28,272.12" fill="#5767a7"/>
<text x="63.3" y="274.8" font-size="11.2" text-anchor="start">500 <tspan dx="1.0" dy="-5.4" font-size="7.0">o</tspan><tspan dy="5.4">C</tspan></text>
<polygon points="47.80,288.92 50.32,284.48 45.28,284.48" fill="#313f88"/>
<text x="63.3" y="291" font-size="11.2" text-anchor="start">450 <tspan dx="1.0" dy="-5.4" font-size="7.0">o</tspan><tspan dy="5.4">C</tspan></text>
<polygon points="47.80,297.87 50.40,300.60 47.80,303.33 45.20,300.60" fill="#1e2454"/>
<text x="63.3" y="305.2" font-size="11.2" text-anchor="start">400 <tspan dx="1.0" dy="-5.4" font-size="7.0">o</tspan><tspan dy="5.4">C</tspan></text>
<text x="120.3" y="309.8" font-size="11" text-anchor="start">NAUP-PNC73</text>
<clipPath id="c5"><rect x="270.65" y="177.85" width="167.00" height="142.40"/></clipPath>
<g clip-path="url(#c5)">
<rect x="282.38" y="203.33" width="3.87" height="3.87" fill="#fa9616"/>
<rect x="289.37" y="205.41" width="3.87" height="3.87" fill="#fa9616"/>
<rect x="296.33" y="207.50" width="3.87" height="3.87" fill="#fa9616"/>
<rect x="303.31" y="209.58" width="3.87" height="3.87" fill="#fa9616"/>
<rect x="310.21" y="211.70" width="3.87" height="3.87" fill="#fa9616"/>
<rect x="316.87" y="213.93" width="3.87" height="3.87" fill="#fa9616"/>
<rect x="323.26" y="216.27" width="3.87" height="3.87" fill="#fa9616"/>
<rect x="329.23" y="218.78" width="3.87" height="3.87" fill="#fa9616"/>
<rect x="334.87" y="221.39" width="3.87" height="3.87" fill="#fa9616"/>
<rect x="340.65" y="223.96" width="3.87" height="3.87" fill="#fa9616"/>
<rect x="346.64" y="226.46" width="3.87" height="3.87" fill="#fa9616"/>
<rect x="352.84" y="228.88" width="3.87" height="3.87" fill="#fa9616"/>
<rect x="358.48" y="231.49" width="3.87" height="3.87" fill="#fa9616"/>
<rect x="363.56" y="234.27" width="3.87" height="3.87" fill="#fa9616"/>
<rect x="368.35" y="237.12" width="3.87" height="3.87" fill="#fa9616"/>
<rect x="373.04" y="240.00" width="3.87" height="3.87" fill="#fa9616"/>
<rect x="377.75" y="242.88" width="3.87" height="3.87" fill="#fa9616"/>
<rect x="382.41" y="245.77" width="3.87" height="3.87" fill="#fa9616"/>
<rect x="386.96" y="248.68" width="3.87" height="3.87" fill="#fa9616"/>
<rect x="391.48" y="251.60" width="3.87" height="3.87" fill="#fa9616"/>
<rect x="395.73" y="254.57" width="3.87" height="3.87" fill="#fa9616"/>
<rect x="399.70" y="257.61" width="3.87" height="3.87" fill="#fa9616"/>
<rect x="403.35" y="260.70" width="3.87" height="3.87" fill="#fa9616"/>
<rect x="406.57" y="263.87" width="3.87" height="3.87" fill="#fa9616"/>
<rect x="409.40" y="267.08" width="3.87" height="3.87" fill="#fa9616"/>
<rect x="412.10" y="270.32" width="3.87" height="3.87" fill="#fa9616"/>
<rect x="414.83" y="273.55" width="3.87" height="3.87" fill="#fa9616"/>
<rect x="417.69" y="276.76" width="3.87" height="3.87" fill="#fa9616"/>
<rect x="420.59" y="279.97" width="3.87" height="3.87" fill="#fa9616"/>
<rect x="423.41" y="283.19" width="3.87" height="3.87" fill="#fa9616"/>
<rect x="426.14" y="286.42" width="3.87" height="3.87" fill="#fa9616"/>
<rect x="429.01" y="289.64" width="3.87" height="3.87" fill="#fa9616"/>
<rect x="431.32" y="292.92" width="3.87" height="3.87" fill="#fa9616"/>
<rect x="432.98" y="296.25" width="3.87" height="3.87" fill="#fa9616"/>
<rect x="434.03" y="299.62" width="3.87" height="3.87" fill="#fa9616"/>
<rect x="434.90" y="303.01" width="3.87" height="3.87" fill="#fa9616"/>
<rect x="435.71" y="306.39" width="3.87" height="3.87" fill="#fa9616"/>
<circle cx="293.73" cy="204.91" r="2.09" fill="#f65f17"/>
<circle cx="300.46" cy="207.08" r="2.09" fill="#f65f17"/>
<circle cx="307.27" cy="209.23" r="2.09" fill="#f65f17"/>
<circle cx="314.17" cy="211.34" r="2.09" fill="#f65f17"/>
<circle cx="320.89" cy="213.52" r="2.09" fill="#f65f17"/>
<circle cx="327.14" cy="215.90" r="2.09" fill="#f65f17"/>
<circle cx="332.98" cy="218.44" r="2.09" fill="#f65f17"/>
<circle cx="338.59" cy="221.05" r="2.09" fill="#f65f17"/>
<circle cx="344.31" cy="223.62" r="2.09" fill="#f65f17"/>
<circle cx="350.17" cy="226.15" r="2.09" fill="#f65f17"/>
<circle cx="355.98" cy="228.69" r="2.09" fill="#f65f17"/>
<circle cx="361.45" cy="231.34" r="2.09" fill="#f65f17"/>
<circle cx="366.55" cy="234.10" r="2.09" fill="#f65f17"/>
<circle cx="371.43" cy="236.92" r="2.09" fill="#f65f17"/>
<circle cx="376.19" cy="239.77" r="2.09" fill="#f65f17"/>
<circle cx="380.85" cy="242.64" r="2.09" fill="#f65f17"/>
<circle cx="385.49" cy="245.52" r="2.09" fill="#f65f17"/>
<circle cx="390.10" cy="248.40" r="2.09" fill="#f65f17"/>
<circle cx="394.60" cy="251.31" r="2.09" fill="#f65f17"/>
<circle cx="398.79" cy="254.29" r="2.09" fill="#f65f17"/>
<circle cx="402.75" cy="257.31" r="2.09" fill="#f65f17"/>
<circle cx="406.47" cy="260.38" r="2.09" fill="#f65f17"/>
<circle cx="409.60" cy="263.55" r="2.09" fill="#f65f17"/>
<circle cx="412.39" cy="266.76" r="2.09" fill="#f65f17"/>
<circle cx="415.19" cy="269.97" r="2.09" fill="#f65f17"/>
<circle cx="417.96" cy="273.18" r="2.09" fill="#f65f17"/>
<circle cx="420.75" cy="276.39" r="2.09" fill="#f65f17"/>
<circle cx="423.58" cy="279.60" r="2.09" fill="#f65f17"/>
<circle cx="426.38" cy="282.81" r="2.09" fill="#f65f17"/>
<circle cx="429.35" cy="286.00" r="2.09" fill="#f65f17"/>
<circle cx="431.66" cy="289.26" r="2.09" fill="#f65f17"/>
<circle cx="433.27" cy="292.59" r="2.09" fill="#f65f17"/>
<circle cx="434.55" cy="295.94" r="2.09" fill="#f65f17"/>
<circle cx="435.66" cy="299.30" r="2.09" fill="#f65f17"/>
<circle cx="436.69" cy="302.66" r="2.09" fill="#f65f17"/>
<circle cx="437.65" cy="306.03" r="2.09" fill="#f65f17"/>
<polygon points="300.41,201.18 303.24,206.18 297.57,206.18" fill="#e01d1c"/>
<polygon points="305.82,203.90 308.66,208.89 302.99,208.89" fill="#e01d1c"/>
<polygon points="311.68,206.47 314.51,211.47 308.84,211.47" fill="#e01d1c"/>
<polygon points="318.25,208.78 321.08,213.77 315.41,213.77" fill="#e01d1c"/>
<polygon points="325.09,210.96 327.93,215.96 322.26,215.96" fill="#e01d1c"/>
<polygon points="330.64,213.63 333.47,218.62 327.80,218.62" fill="#e01d1c"/>
<polygon points="336.95,215.94 339.79,220.94 334.12,220.94" fill="#e01d1c"/>
<polygon points="344.17,217.47 347.01,222.46 341.34,222.46" fill="#e01d1c"/>
<polygon points="349.57,220.18 352.41,225.18 346.74,225.18" fill="#e01d1c"/>
<polygon points="355.21,222.83 358.04,227.83 352.37,227.83" fill="#e01d1c"/>
<polygon points="360.72,225.52 363.56,230.51 357.89,230.51" fill="#e01d1c"/>
<polygon points="366.01,228.27 368.85,233.27 363.18,233.27" fill="#e01d1c"/>
<polygon points="371.11,231.08 373.94,236.07 368.27,236.07" fill="#e01d1c"/>
<polygon points="376.04,233.92 378.88,238.92 373.21,238.92" fill="#e01d1c"/>
<polygon points="380.73,236.83 383.57,241.83 377.90,241.83" fill="#e01d1c"/>
<polygon points="385.44,239.74 388.27,244.73 382.60,244.73" fill="#e01d1c"/>
<polygon points="390.17,242.64 393.01,247.63 387.34,247.63" fill="#e01d1c"/>
<polygon points="394.76,245.57 397.59,250.56 391.92,250.56" fill="#e01d1c"/>
<polygon points="399.01,248.57 401.84,253.57 396.17,253.57" fill="#e01d1c"/>
<polygon points="403.13,251.61 405.96,256.60 400.29,256.60" fill="#e01d1c"/>
<polygon points="407.05,254.68 409.88,259.68 404.21,259.68" fill="#e01d1c"/>
<polygon points="410.19,257.88 413.03,262.88 407.36,262.88" fill="#e01d1c"/>
<polygon points="413.04,261.12 415.88,266.12 410.21,266.12" fill="#e01d1c"/>
<polygon points="415.90,264.36 418.74,269.36 413.07,269.36" fill="#e01d1c"/>
<polygon points="418.71,267.61 421.54,272.61 415.87,272.61" fill="#e01d1c"/>
<polygon points="421.53,270.86 424.37,275.85 418.70,275.85" fill="#e01d1c"/>
<polygon points="424.34,274.11 427.17,279.10 421.50,279.10" fill="#e01d1c"/>
<polygon points="427.17,277.35 430.00,282.35 424.33,282.35" fill="#e01d1c"/>
<polygon points="429.97,280.60 432.81,285.59 427.14,285.59" fill="#e01d1c"/>
<polygon points="432.05,283.92 434.88,288.92 429.21,288.92" fill="#e01d1c"/>
<polygon points="433.51,287.30 436.35,292.30 430.68,292.30" fill="#e01d1c"/>
<polygon points="434.70,290.69 437.54,295.69 431.87,295.69" fill="#e01d1c"/>
<polygon points="435.76,294.09 438.59,299.09 432.92,299.09" fill="#e01d1c"/>
<polygon points="436.73,297.49 439.57,302.49 433.90,302.49" fill="#e01d1c"/>
<polygon points="437.65,300.90 440.48,305.89 434.81,305.89" fill="#e01d1c"/>
<polygon points="315.89,207.74 318.73,202.75 313.06,202.75" fill="#871212"/>
<polygon points="322.87,209.84 325.70,204.85 320.03,204.85" fill="#871212"/>
<polygon points="328.96,212.33 331.80,207.33 326.13,207.33" fill="#871212"/>
<polygon points="334.91,214.86 337.74,209.87 332.07,209.87" fill="#871212"/>
<polygon points="340.31,217.57 343.14,212.57 337.47,212.57" fill="#871212"/>
<polygon points="345.99,220.19 348.83,215.20 343.16,215.20" fill="#871212"/>
<polygon points="351.29,222.93 354.13,217.94 348.46,217.94" fill="#871212"/>
<polygon points="356.63,225.66 359.47,220.66 353.80,220.66" fill="#871212"/>
<polygon points="362.06,228.36 364.90,223.37 359.23,223.37" fill="#871212"/>
<polygon points="367.45,231.08 370.29,226.08 364.62,226.08" fill="#871212"/>
<polygon points="372.69,233.83 375.52,228.84 369.85,228.84" fill="#871212"/>
<polygon points="377.65,236.66 380.49,231.67 374.82,231.67" fill="#871212"/>
<polygon points="382.23,239.59 385.06,234.59 379.39,234.59" fill="#871212"/>
<polygon points="386.98,242.47 389.82,237.48 384.15,237.48" fill="#871212"/>
<polygon points="391.88,245.32 394.71,240.33 389.04,240.33" fill="#871212"/>
<polygon points="396.30,248.28 399.14,243.29 393.47,243.29" fill="#871212"/>
<polygon points="400.52,251.29 403.35,246.29 397.68,246.29" fill="#871212"/>
<polygon points="404.89,254.26 407.73,249.26 402.06,249.26" fill="#871212"/>
<polygon points="408.80,257.32 411.64,252.33 405.97,252.33" fill="#871212"/>
<polygon points="411.78,260.54 414.61,255.55 408.94,255.55" fill="#871212"/>
<polygon points="414.57,263.78 417.41,258.79 411.74,258.79" fill="#871212"/>
<polygon points="417.43,267.01 420.26,262.02 414.59,262.02" fill="#871212"/>
<polygon points="420.24,270.25 423.08,265.26 417.41,265.26" fill="#871212"/>
<polygon points="422.98,273.50 425.82,268.51 420.15,268.51" fill="#871212"/>
<polygon points="425.72,276.75 428.55,271.76 422.88,271.76" fill="#871212"/>
<polygon points="428.36,280.01 431.20,275.02 425.53,275.02" fill="#871212"/>
<polygon points="430.78,283.30 433.62,278.30 427.95,278.30" fill="#871212"/>
<polygon points="433.42,286.56 436.25,281.56 430.58,281.56" fill="#871212"/>
<polygon points="435.38,289.88 438.21,284.89 432.54,284.89" fill="#871212"/>
<polygon points="436.54,293.27 439.37,288.27 433.70,288.27" fill="#871212"/>
<polygon points="436.99,296.68 439.83,291.68 434.16,291.68" fill="#871212"/>
<polygon points="437.33,300.09 440.16,295.10 434.49,295.10" fill="#871212"/>
<polygon points="437.65,303.50 440.48,298.51 434.81,298.51" fill="#871212"/>
</g>
<path d="M270.65 177.85H437.65V320.25H270.65Z" fill="none" stroke="#0a0a0a" stroke-width="1"/>
<path d="M285.83 320.25v-2.2M316.20 320.25v-2.2M346.56 320.25v-2.2M376.92 320.25v-2.2M407.29 320.25v-2.2M437.65 320.25v-2.2M270.65 320.25v-1.4M301.01 320.25v-1.4M331.38 320.25v-1.4M361.74 320.25v-1.4M392.10 320.25v-1.4M422.47 320.25v-1.4M270.65 311.35h2.2M270.65 293.55h2.2M270.65 275.75h2.2M270.65 257.95h2.2M270.65 240.15h2.2M270.65 222.35h2.2M270.65 204.55h2.2M270.65 186.75h2.2M270.65 320.25h1.4M270.65 302.45h1.4M270.65 284.65h1.4M270.65 266.85h1.4M270.65 249.05h1.4M270.65 231.25h1.4M270.65 213.45h1.4M270.65 195.65h1.4M270.65 177.85h1.4" stroke="#0a0a0a" stroke-width="1"/>
<text transform="translate(285.83 332.25) scale(1.06 1)" font-size="10.1" text-anchor="middle">-5.0</text>
<text transform="translate(316.2 332.25) scale(1.06 1)" font-size="10.1" text-anchor="middle">-4.0</text>
<text transform="translate(346.56 332.25) scale(1.06 1)" font-size="10.1" text-anchor="middle">-3.0</text>
<text transform="translate(376.92 332.25) scale(1.06 1)" font-size="10.1" text-anchor="middle">-2.0</text>
<text transform="translate(407.29 332.25) scale(1.06 1)" font-size="10.1" text-anchor="middle">-1.0</text>
<text transform="translate(437.65 332.25) scale(1.06 1)" font-size="10.1" text-anchor="middle">0.0</text>
<text transform="translate(268.15 315.15) scale(1.06 1)" font-size="10.1" text-anchor="end">1.0</text>
<text transform="translate(268.15 297.35) scale(1.06 1)" font-size="10.1" text-anchor="end">1.1</text>
<text transform="translate(268.15 279.55) scale(1.06 1)" font-size="10.1" text-anchor="end">1.2</text>
<text transform="translate(268.15 261.75) scale(1.06 1)" font-size="10.1" text-anchor="end">1.3</text>
<text transform="translate(268.15 243.95) scale(1.06 1)" font-size="10.1" text-anchor="end">1.4</text>
<text transform="translate(268.15 226.15) scale(1.06 1)" font-size="10.1" text-anchor="end">1.5</text>
<text transform="translate(268.15 208.35) scale(1.06 1)" font-size="10.1" text-anchor="end">1.6</text>
<text transform="translate(268.15 190.55) scale(1.06 1)" font-size="10.1" text-anchor="end">1.7</text>
<text x="243.3" y="186" font-size="14.5" text-anchor="start" font-weight="bold">e</text>
<text transform="translate(248.3 255.8) rotate(-90)" font-size="12.7" text-anchor="middle">Voltage (V)</text>
<text x="293.7" y="342.8" font-size="12.8">Current density (A cm<tspan dy="-6.8" font-size="9.8">-2</tspan><tspan dy="6.8" dx="1.0">)</tspan></text>
<text x="277" y="193.1" font-size="11.4" text-anchor="start">At 600 <tspan dx="1.0" dy="-5.4" font-size="7.0">o</tspan><tspan dy="5.4">C (40 sccm)</tspan></text>
<rect x="283.67" y="248.87" width="3.87" height="3.87" fill="#fa9616"/>
<text x="302.1" y="254.8" font-size="11.2" text-anchor="start">20 vol.% H<tspan dy="3.2" font-size="8.5">2</tspan><tspan dy="-3.2">O</tspan></text>
<circle cx="285.60" cy="267.00" r="2.04" fill="#f65f17"/>
<text x="302.1" y="271" font-size="11.2" text-anchor="start">30 vol.% H<tspan dy="3.2" font-size="8.5">2</tspan><tspan dy="-3.2">O</tspan></text>
<polygon points="285.60,280.27 288.23,284.90 282.98,284.90" fill="#e01d1c"/>
<text x="302.1" y="286.9" font-size="11.2" text-anchor="start">10 vol.% H<tspan dy="3.2" font-size="8.5">2</tspan><tspan dy="-3.2">O</tspan></text>
<polygon points="285.60,302.73 288.23,298.10 282.98,298.10" fill="#871212"/>
<text x="302.1" y="304.1" font-size="11.2" text-anchor="start">3 vol.% H<tspan dy="3.2" font-size="8.5">2</tspan><tspan dy="-3.2">O</tspan></text>
<text transform="translate(420.9 184.2) rotate(90)" font-size="11">NAUP-PNC73</text>
<clipPath id="c6"><rect x="506.65" y="177.35" width="170.95" height="144.95"/></clipPath>
<g clip-path="url(#c6)">
<rect x="520.68" y="204.47" width="3.02" height="3.02" fill="#fff" stroke="#fa9616" stroke-width="1.05"/>
<rect x="526.90" y="205.85" width="3.02" height="3.02" fill="#fff" stroke="#fa9616" stroke-width="1.05"/>
<rect x="533.12" y="207.45" width="3.02" height="3.02" fill="#fff" stroke="#fa9616" stroke-width="1.05"/>
<rect x="539.33" y="209.33" width="3.02" height="3.02" fill="#fff" stroke="#fa9616" stroke-width="1.05"/>
<rect x="545.55" y="211.36" width="3.02" height="3.02" fill="#fff" stroke="#fa9616" stroke-width="1.05"/>
<rect x="551.77" y="213.36" width="3.02" height="3.02" fill="#fff" stroke="#fa9616" stroke-width="1.05"/>
<rect x="557.98" y="215.59" width="3.02" height="3.02" fill="#fff" stroke="#fa9616" stroke-width="1.05"/>
<rect x="564.20" y="218.43" width="3.02" height="3.02" fill="#fff" stroke="#fa9616" stroke-width="1.05"/>
<rect x="570.41" y="221.27" width="3.02" height="3.02" fill="#fff" stroke="#fa9616" stroke-width="1.05"/>
<rect x="576.63" y="223.52" width="3.02" height="3.02" fill="#fff" stroke="#fa9616" stroke-width="1.05"/>
<rect x="582.85" y="225.85" width="3.02" height="3.02" fill="#fff" stroke="#fa9616" stroke-width="1.05"/>
<rect x="589.06" y="228.81" width="3.02" height="3.02" fill="#fff" stroke="#fa9616" stroke-width="1.05"/>
<rect x="595.28" y="232.01" width="3.02" height="3.02" fill="#fff" stroke="#fa9616" stroke-width="1.05"/>
<rect x="601.50" y="235.09" width="3.02" height="3.02" fill="#fff" stroke="#fa9616" stroke-width="1.05"/>
<rect x="607.71" y="238.35" width="3.02" height="3.02" fill="#fff" stroke="#fa9616" stroke-width="1.05"/>
<rect x="613.93" y="242.17" width="3.02" height="3.02" fill="#fff" stroke="#fa9616" stroke-width="1.05"/>
<rect x="620.15" y="245.92" width="3.02" height="3.02" fill="#fff" stroke="#fa9616" stroke-width="1.05"/>
<rect x="626.36" y="249.49" width="3.02" height="3.02" fill="#fff" stroke="#fa9616" stroke-width="1.05"/>
<rect x="632.58" y="253.84" width="3.02" height="3.02" fill="#fff" stroke="#fa9616" stroke-width="1.05"/>
<rect x="638.79" y="258.41" width="3.02" height="3.02" fill="#fff" stroke="#fa9616" stroke-width="1.05"/>
<rect x="645.01" y="263.44" width="3.02" height="3.02" fill="#fff" stroke="#fa9616" stroke-width="1.05"/>
<rect x="647.34" y="265.58" width="3.02" height="3.02" fill="#fff" stroke="#fa9616" stroke-width="1.05"/>
<rect x="649.67" y="267.87" width="3.02" height="3.02" fill="#fff" stroke="#fa9616" stroke-width="1.05"/>
<rect x="652.00" y="270.34" width="3.02" height="3.02" fill="#fff" stroke="#fa9616" stroke-width="1.05"/>
<rect x="654.34" y="273.04" width="3.02" height="3.02" fill="#fff" stroke="#fa9616" stroke-width="1.05"/>
<rect x="656.67" y="276.08" width="3.02" height="3.02" fill="#fff" stroke="#fa9616" stroke-width="1.05"/>
<rect x="659.00" y="279.73" width="3.02" height="3.02" fill="#fff" stroke="#fa9616" stroke-width="1.05"/>
<rect x="661.33" y="283.48" width="3.02" height="3.02" fill="#fff" stroke="#fa9616" stroke-width="1.05"/>
<rect x="663.66" y="286.86" width="3.02" height="3.02" fill="#fff" stroke="#fa9616" stroke-width="1.05"/>
<rect x="665.99" y="290.04" width="3.02" height="3.02" fill="#fff" stroke="#fa9616" stroke-width="1.05"/>
<rect x="668.32" y="293.42" width="3.02" height="3.02" fill="#fff" stroke="#fa9616" stroke-width="1.05"/>
<rect x="670.65" y="297.34" width="3.02" height="3.02" fill="#fff" stroke="#fa9616" stroke-width="1.05"/>
<rect x="672.98" y="301.87" width="3.02" height="3.02" fill="#fff" stroke="#fa9616" stroke-width="1.05"/>
<rect x="675.32" y="306.89" width="3.02" height="3.02" fill="#fff" stroke="#fa9616" stroke-width="1.05"/>
<circle cx="528.41" cy="205.62" r="1.78" fill="#fff" stroke="#f65f17" stroke-width="1.05"/>
<circle cx="534.62" cy="207.40" r="1.78" fill="#fff" stroke="#f65f17" stroke-width="1.05"/>
<circle cx="540.84" cy="209.45" r="1.78" fill="#fff" stroke="#f65f17" stroke-width="1.05"/>
<circle cx="547.06" cy="211.83" r="1.78" fill="#fff" stroke="#f65f17" stroke-width="1.05"/>
<circle cx="553.27" cy="213.89" r="1.78" fill="#fff" stroke="#f65f17" stroke-width="1.05"/>
<circle cx="559.49" cy="216.12" r="1.78" fill="#fff" stroke="#f65f17" stroke-width="1.05"/>
<circle cx="565.71" cy="218.96" r="1.78" fill="#fff" stroke="#f65f17" stroke-width="1.05"/>
<circle cx="571.92" cy="221.74" r="1.78" fill="#fff" stroke="#f65f17" stroke-width="1.05"/>
<circle cx="578.14" cy="224.00" r="1.78" fill="#fff" stroke="#f65f17" stroke-width="1.05"/>
<circle cx="584.35" cy="226.34" r="1.78" fill="#fff" stroke="#f65f17" stroke-width="1.05"/>
<circle cx="590.57" cy="229.33" r="1.78" fill="#fff" stroke="#f65f17" stroke-width="1.05"/>
<circle cx="596.79" cy="232.57" r="1.78" fill="#fff" stroke="#f65f17" stroke-width="1.05"/>
<circle cx="603.00" cy="235.71" r="1.78" fill="#fff" stroke="#f65f17" stroke-width="1.05"/>
<circle cx="609.22" cy="239.04" r="1.78" fill="#fff" stroke="#f65f17" stroke-width="1.05"/>
<circle cx="615.44" cy="242.90" r="1.78" fill="#fff" stroke="#f65f17" stroke-width="1.05"/>
<circle cx="621.65" cy="246.67" r="1.78" fill="#fff" stroke="#f65f17" stroke-width="1.05"/>
<circle cx="627.87" cy="250.25" r="1.78" fill="#fff" stroke="#f65f17" stroke-width="1.05"/>
<circle cx="634.09" cy="254.68" r="1.78" fill="#fff" stroke="#f65f17" stroke-width="1.05"/>
<circle cx="640.30" cy="259.34" r="1.78" fill="#fff" stroke="#f65f17" stroke-width="1.05"/>
<circle cx="646.52" cy="264.44" r="1.78" fill="#fff" stroke="#f65f17" stroke-width="1.05"/>
<circle cx="648.85" cy="266.57" r="1.78" fill="#fff" stroke="#f65f17" stroke-width="1.05"/>
<circle cx="651.18" cy="268.85" r="1.78" fill="#fff" stroke="#f65f17" stroke-width="1.05"/>
<circle cx="653.51" cy="271.36" r="1.78" fill="#fff" stroke="#f65f17" stroke-width="1.05"/>
<circle cx="655.84" cy="274.16" r="1.78" fill="#fff" stroke="#f65f17" stroke-width="1.05"/>
<circle cx="658.17" cy="277.21" r="1.78" fill="#fff" stroke="#f65f17" stroke-width="1.05"/>
<circle cx="660.50" cy="280.57" r="1.78" fill="#fff" stroke="#f65f17" stroke-width="1.05"/>
<circle cx="662.84" cy="284.30" r="1.78" fill="#fff" stroke="#f65f17" stroke-width="1.05"/>
<circle cx="665.17" cy="288.00" r="1.78" fill="#fff" stroke="#f65f17" stroke-width="1.05"/>
<circle cx="667.50" cy="291.32" r="1.78" fill="#fff" stroke="#f65f17" stroke-width="1.05"/>
<circle cx="669.83" cy="294.62" r="1.78" fill="#fff" stroke="#f65f17" stroke-width="1.05"/>
<circle cx="672.16" cy="298.44" r="1.78" fill="#fff" stroke="#f65f17" stroke-width="1.05"/>
<circle cx="674.49" cy="302.90" r="1.78" fill="#fff" stroke="#f65f17" stroke-width="1.05"/>
<circle cx="676.82" cy="307.89" r="1.78" fill="#fff" stroke="#f65f17" stroke-width="1.05"/>
<polygon points="534.62,202.03 537.01,206.24 532.23,206.24" fill="#fff" stroke="#e01d1c" stroke-width="1.05"/>
<polygon points="540.84,204.49 543.23,208.70 538.45,208.70" fill="#fff" stroke="#e01d1c" stroke-width="1.05"/>
<polygon points="547.06,207.52 549.45,211.73 544.67,211.73" fill="#fff" stroke="#e01d1c" stroke-width="1.05"/>
<polygon points="553.27,209.68 555.66,213.89 550.88,213.89" fill="#fff" stroke="#e01d1c" stroke-width="1.05"/>
<polygon points="559.49,211.92 561.88,216.13 557.10,216.13" fill="#fff" stroke="#e01d1c" stroke-width="1.05"/>
<polygon points="565.71,214.74 568.09,218.95 563.32,218.95" fill="#fff" stroke="#e01d1c" stroke-width="1.05"/>
<polygon points="571.92,217.43 574.31,221.64 569.53,221.64" fill="#fff" stroke="#e01d1c" stroke-width="1.05"/>
<polygon points="578.14,219.69 580.53,223.90 575.75,223.90" fill="#fff" stroke="#e01d1c" stroke-width="1.05"/>
<polygon points="584.35,222.07 586.74,226.28 581.97,226.28" fill="#fff" stroke="#e01d1c" stroke-width="1.05"/>
<polygon points="590.57,225.10 592.96,229.31 588.18,229.31" fill="#fff" stroke="#e01d1c" stroke-width="1.05"/>
<polygon points="596.79,228.41 599.18,232.62 594.40,232.62" fill="#fff" stroke="#e01d1c" stroke-width="1.05"/>
<polygon points="603.00,231.67 605.39,235.88 600.61,235.88" fill="#fff" stroke="#e01d1c" stroke-width="1.05"/>
<polygon points="609.22,235.12 611.61,239.32 606.83,239.32" fill="#fff" stroke="#e01d1c" stroke-width="1.05"/>
<polygon points="615.44,239.06 617.83,243.27 613.05,243.27" fill="#fff" stroke="#e01d1c" stroke-width="1.05"/>
<polygon points="621.65,242.87 624.04,247.08 619.26,247.08" fill="#fff" stroke="#e01d1c" stroke-width="1.05"/>
<polygon points="627.87,246.48 630.26,250.69 625.48,250.69" fill="#fff" stroke="#e01d1c" stroke-width="1.05"/>
<polygon points="634.09,251.07 636.47,255.28 631.70,255.28" fill="#fff" stroke="#e01d1c" stroke-width="1.05"/>
<polygon points="640.30,255.88 642.69,260.08 637.91,260.08" fill="#fff" stroke="#e01d1c" stroke-width="1.05"/>
<polygon points="646.52,261.10 648.91,265.31 644.13,265.31" fill="#fff" stroke="#e01d1c" stroke-width="1.05"/>
<polygon points="648.85,263.28 651.24,267.48 646.46,267.48" fill="#fff" stroke="#e01d1c" stroke-width="1.05"/>
<polygon points="651.18,265.55 653.57,269.76 648.79,269.76" fill="#fff" stroke="#e01d1c" stroke-width="1.05"/>
<polygon points="653.51,268.00 655.90,272.21 651.12,272.21" fill="#fff" stroke="#e01d1c" stroke-width="1.05"/>
<polygon points="655.84,270.69 658.23,274.90 653.45,274.90" fill="#fff" stroke="#e01d1c" stroke-width="1.05"/>
<polygon points="658.17,273.79 660.56,278.00 655.79,278.00" fill="#fff" stroke="#e01d1c" stroke-width="1.05"/>
<polygon points="660.50,277.60 662.89,281.80 658.12,281.80" fill="#fff" stroke="#e01d1c" stroke-width="1.05"/>
<polygon points="662.84,281.50 665.22,285.71 660.45,285.71" fill="#fff" stroke="#e01d1c" stroke-width="1.05"/>
<polygon points="665.17,284.93 667.56,289.13 662.78,289.13" fill="#fff" stroke="#e01d1c" stroke-width="1.05"/>
<polygon points="667.50,288.12 669.89,292.33 665.11,292.33" fill="#fff" stroke="#e01d1c" stroke-width="1.05"/>
<polygon points="669.83,291.47 672.22,295.68 667.44,295.68" fill="#fff" stroke="#e01d1c" stroke-width="1.05"/>
<polygon points="672.16,295.34 674.55,299.55 669.77,299.55" fill="#fff" stroke="#e01d1c" stroke-width="1.05"/>
<polygon points="674.49,299.76 676.88,303.97 672.10,303.97" fill="#fff" stroke="#e01d1c" stroke-width="1.05"/>
<polygon points="676.82,304.62 679.21,308.83 674.43,308.83" fill="#fff" stroke="#e01d1c" stroke-width="1.05"/>
<polygon points="547.06,207.55 549.45,203.34 544.67,203.34" fill="#fff" stroke="#871212" stroke-width="1.05"/>
<polygon points="553.27,209.36 555.66,205.16 550.88,205.16" fill="#fff" stroke="#871212" stroke-width="1.05"/>
<polygon points="559.49,211.27 561.88,207.06 557.10,207.06" fill="#fff" stroke="#871212" stroke-width="1.05"/>
<polygon points="565.71,213.98 568.09,209.77 563.32,209.77" fill="#fff" stroke="#871212" stroke-width="1.05"/>
<polygon points="571.92,217.04 574.31,212.83 569.53,212.83" fill="#fff" stroke="#871212" stroke-width="1.05"/>
<polygon points="578.14,220.25 580.53,216.05 575.75,216.05" fill="#fff" stroke="#871212" stroke-width="1.05"/>
<polygon points="584.35,223.57 586.74,219.36 581.97,219.36" fill="#fff" stroke="#871212" stroke-width="1.05"/>
<polygon points="590.57,226.99 592.96,222.78 588.18,222.78" fill="#fff" stroke="#871212" stroke-width="1.05"/>
<polygon points="596.79,230.46 599.18,226.26 594.40,226.26" fill="#fff" stroke="#871212" stroke-width="1.05"/>
<polygon points="603.00,233.96 605.39,229.75 600.61,229.75" fill="#fff" stroke="#871212" stroke-width="1.05"/>
<polygon points="609.22,237.54 611.61,233.33 606.83,233.33" fill="#fff" stroke="#871212" stroke-width="1.05"/>
<polygon points="615.44,241.27 617.83,237.06 613.05,237.06" fill="#fff" stroke="#871212" stroke-width="1.05"/>
<polygon points="621.65,244.95 624.04,240.74 619.26,240.74" fill="#fff" stroke="#871212" stroke-width="1.05"/>
<polygon points="627.87,248.82 630.26,244.62 625.48,244.62" fill="#fff" stroke="#871212" stroke-width="1.05"/>
<polygon points="634.09,253.91 636.47,249.70 631.70,249.70" fill="#fff" stroke="#871212" stroke-width="1.05"/>
<polygon points="640.30,259.03 642.69,254.82 637.91,254.82" fill="#fff" stroke="#871212" stroke-width="1.05"/>
<polygon points="646.52,264.42 648.91,260.21 644.13,260.21" fill="#fff" stroke="#871212" stroke-width="1.05"/>
<polygon points="648.85,266.63 651.24,262.42 646.46,262.42" fill="#fff" stroke="#871212" stroke-width="1.05"/>
<polygon points="651.18,268.90 653.57,264.69 648.79,264.69" fill="#fff" stroke="#871212" stroke-width="1.05"/>
<polygon points="653.51,271.33 655.90,267.12 651.12,267.12" fill="#fff" stroke="#871212" stroke-width="1.05"/>
<polygon points="655.84,274.02 658.23,269.81 653.45,269.81" fill="#fff" stroke="#871212" stroke-width="1.05"/>
<polygon points="658.17,277.14 660.56,272.93 655.79,272.93" fill="#fff" stroke="#871212" stroke-width="1.05"/>
<polygon points="660.50,281.01 662.89,276.80 658.12,276.80" fill="#fff" stroke="#871212" stroke-width="1.05"/>
<polygon points="662.84,285.00 665.22,280.79 660.45,280.79" fill="#fff" stroke="#871212" stroke-width="1.05"/>
<polygon points="665.17,288.48 667.56,284.27 662.78,284.27" fill="#fff" stroke="#871212" stroke-width="1.05"/>
<polygon points="667.50,291.73 669.89,287.52 665.11,287.52" fill="#fff" stroke="#871212" stroke-width="1.05"/>
<polygon points="669.83,295.13 672.22,290.92 667.44,290.92" fill="#fff" stroke="#871212" stroke-width="1.05"/>
<polygon points="672.16,299.06 674.55,294.85 669.77,294.85" fill="#fff" stroke="#871212" stroke-width="1.05"/>
<polygon points="674.49,303.54 676.88,299.34 672.10,299.34" fill="#fff" stroke="#871212" stroke-width="1.05"/>
<polygon points="676.82,308.47 679.21,304.26 674.43,304.26" fill="#fff" stroke="#871212" stroke-width="1.05"/>
</g>
<path d="M506.65 177.35H677.60V322.30H506.65Z" fill="none" stroke="#0a0a0a" stroke-width="1"/>
<path d="M522.19 322.30v-2.2M553.27 322.30v-2.2M584.35 322.30v-2.2M615.44 322.30v-2.2M646.52 322.30v-2.2M677.60 322.30v-2.2M506.65 322.30v-1.4M537.73 322.30v-1.4M568.81 322.30v-1.4M599.90 322.30v-1.4M630.98 322.30v-1.4M662.06 322.30v-1.4M506.65 313.24h2.2M506.65 295.12h2.2M506.65 277.00h2.2M506.65 258.88h2.2M506.65 240.77h2.2M506.65 222.65h2.2M506.65 204.53h2.2M506.65 186.41h2.2M506.65 322.30h1.4M506.65 304.18h1.4M506.65 286.06h1.4M506.65 267.94h1.4M506.65 249.82h1.4M506.65 231.71h1.4M506.65 213.59h1.4M506.65 195.47h1.4M506.65 177.35h1.4" stroke="#0a0a0a" stroke-width="1"/>
<text transform="translate(522.19 334.3) scale(1.06 1)" font-size="10.1" text-anchor="middle">-5.0</text>
<text transform="translate(553.27 334.3) scale(1.06 1)" font-size="10.1" text-anchor="middle">-4.0</text>
<text transform="translate(584.35 334.3) scale(1.06 1)" font-size="10.1" text-anchor="middle">-3.0</text>
<text transform="translate(615.44 334.3) scale(1.06 1)" font-size="10.1" text-anchor="middle">-2.0</text>
<text transform="translate(646.52 334.3) scale(1.06 1)" font-size="10.1" text-anchor="middle">-1.0</text>
<text transform="translate(677.6 334.3) scale(1.06 1)" font-size="10.1" text-anchor="middle">0.0</text>
<text transform="translate(504.15 317.04) scale(1.06 1)" font-size="10.1" text-anchor="end">1.0</text>
<text transform="translate(504.15 298.92) scale(1.06 1)" font-size="10.1" text-anchor="end">1.1</text>
<text transform="translate(504.15 280.8) scale(1.06 1)" font-size="10.1" text-anchor="end">1.2</text>
<text transform="translate(504.15 262.68) scale(1.06 1)" font-size="10.1" text-anchor="end">1.3</text>
<text transform="translate(504.15 244.57) scale(1.06 1)" font-size="10.1" text-anchor="end">1.4</text>
<text transform="translate(504.15 226.45) scale(1.06 1)" font-size="10.1" text-anchor="end">1.5</text>
<text transform="translate(504.15 208.33) scale(1.06 1)" font-size="10.1" text-anchor="end">1.6</text>
<text transform="translate(504.15 190.21) scale(1.06 1)" font-size="10.1" text-anchor="end">1.7</text>
<text x="483" y="185.8" font-size="14.5" text-anchor="start" font-weight="bold">f</text>
<text transform="translate(483.6 256.1) rotate(-90)" font-size="13.0" text-anchor="middle">Voltage (V)</text>
<text x="529.7" y="345.9" font-size="13.0">Current density (A cm<tspan dy="-6.8" font-size="9.8">-2</tspan><tspan dy="6.8" dx="1.0">)</tspan></text>
<text x="511.6" y="192.4" font-size="11.4" text-anchor="start">At 600 <tspan dx="1.0" dy="-5.4" font-size="7.0">o</tspan><tspan dy="5.4">C/20 vol.% </tspan>H<tspan dy="3.2" font-size="8.5">2</tspan><tspan dy="-3.2">O</tspan></text>
<rect x="520.62" y="249.93" width="3.15" height="3.15" fill="#fff" stroke="#fa9616" stroke-width="1.1"/>
<text x="539" y="255.5" font-size="11.2" text-anchor="start">40 sccm O<tspan dy="3.2" font-size="8.5">2</tspan></text>
<circle cx="522.20" cy="268.70" r="1.66" fill="#fff" stroke="#f65f17" stroke-width="1.1"/>
<text x="539" y="272.7" font-size="11.2" text-anchor="start">60 sccm O<tspan dy="3.2" font-size="8.5">2</tspan></text>
<polygon points="522.20,282.55 524.35,286.34 520.05,286.34" fill="#fff" stroke="#e01d1c" stroke-width="1.1"/>
<text x="539" y="288.7" font-size="11.2" text-anchor="start">20 sccm O<tspan dy="3.2" font-size="8.5">2</tspan></text>
<polygon points="522.20,303.65 524.35,299.86 520.05,299.86" fill="#fff" stroke="#871212" stroke-width="1.1"/>
<text x="539" y="305.5" font-size="11.2" text-anchor="start">10 sccm O<tspan dy="3.2" font-size="8.5">2</tspan></text>
<text transform="translate(661.5 183.4) rotate(90)" font-size="11">NAUP-PNC73</text>
</svg>
</body></html>
